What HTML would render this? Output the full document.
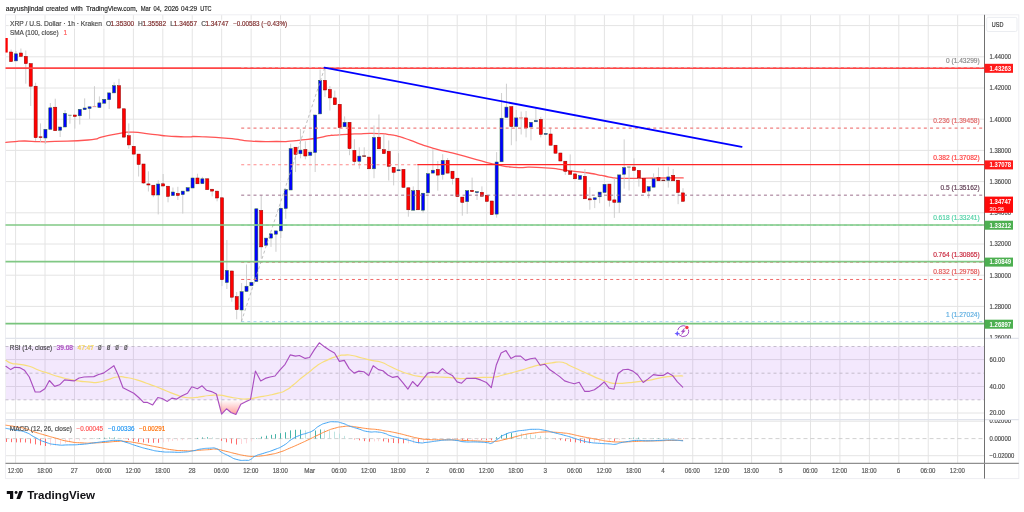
<!DOCTYPE html>
<html><head><meta charset="utf-8"><title>XRPUSD chart</title>
<style>html,body{margin:0;padding:0;background:#fff;overflow:hidden}svg{display:block;will-change:transform}text{font-family:"Liberation Sans",sans-serif}</style></head>
<body>
<svg width="1024" height="512" viewBox="0 0 1024 512" font-family='"Liberation Sans", sans-serif'>
<rect width="1024" height="512" fill="#fff"/>
<line x1="15.6" y1="14.8" x2="15.6" y2="463.4" stroke="#e4e4e4" stroke-width="1" />
<line x1="45.04" y1="14.8" x2="45.04" y2="463.4" stroke="#e4e4e4" stroke-width="1" />
<line x1="74.48" y1="14.8" x2="74.48" y2="463.4" stroke="#e4e4e4" stroke-width="1" />
<line x1="103.92" y1="14.8" x2="103.92" y2="463.4" stroke="#e4e4e4" stroke-width="1" />
<line x1="133.36" y1="14.8" x2="133.36" y2="463.4" stroke="#e4e4e4" stroke-width="1" />
<line x1="162.8" y1="14.8" x2="162.8" y2="463.4" stroke="#e4e4e4" stroke-width="1" />
<line x1="192.24" y1="14.8" x2="192.24" y2="463.4" stroke="#e4e4e4" stroke-width="1" />
<line x1="221.68" y1="14.8" x2="221.68" y2="463.4" stroke="#e4e4e4" stroke-width="1" />
<line x1="251.12" y1="14.8" x2="251.12" y2="463.4" stroke="#e4e4e4" stroke-width="1" />
<line x1="280.56" y1="14.8" x2="280.56" y2="463.4" stroke="#e4e4e4" stroke-width="1" />
<line x1="310" y1="14.8" x2="310" y2="463.4" stroke="#e4e4e4" stroke-width="1" />
<line x1="339.44" y1="14.8" x2="339.44" y2="463.4" stroke="#e4e4e4" stroke-width="1" />
<line x1="368.88" y1="14.8" x2="368.88" y2="463.4" stroke="#e4e4e4" stroke-width="1" />
<line x1="398.32" y1="14.8" x2="398.32" y2="463.4" stroke="#e4e4e4" stroke-width="1" />
<line x1="427.76" y1="14.8" x2="427.76" y2="463.4" stroke="#e4e4e4" stroke-width="1" />
<line x1="457.2" y1="14.8" x2="457.2" y2="463.4" stroke="#e4e4e4" stroke-width="1" />
<line x1="486.64" y1="14.8" x2="486.64" y2="463.4" stroke="#e4e4e4" stroke-width="1" />
<line x1="516.08" y1="14.8" x2="516.08" y2="463.4" stroke="#e4e4e4" stroke-width="1" />
<line x1="545.52" y1="14.8" x2="545.52" y2="463.4" stroke="#e4e4e4" stroke-width="1" />
<line x1="574.96" y1="14.8" x2="574.96" y2="463.4" stroke="#e4e4e4" stroke-width="1" />
<line x1="604.4" y1="14.8" x2="604.4" y2="463.4" stroke="#e4e4e4" stroke-width="1" />
<line x1="633.84" y1="14.8" x2="633.84" y2="463.4" stroke="#e4e4e4" stroke-width="1" />
<line x1="663.28" y1="14.8" x2="663.28" y2="463.4" stroke="#e4e4e4" stroke-width="1" />
<line x1="692.72" y1="14.8" x2="692.72" y2="463.4" stroke="#e4e4e4" stroke-width="1" />
<line x1="722.16" y1="14.8" x2="722.16" y2="463.4" stroke="#e4e4e4" stroke-width="1" />
<line x1="751.6" y1="14.8" x2="751.6" y2="463.4" stroke="#e4e4e4" stroke-width="1" />
<line x1="781.04" y1="14.8" x2="781.04" y2="463.4" stroke="#e4e4e4" stroke-width="1" />
<line x1="810.48" y1="14.8" x2="810.48" y2="463.4" stroke="#e4e4e4" stroke-width="1" />
<line x1="839.92" y1="14.8" x2="839.92" y2="463.4" stroke="#e4e4e4" stroke-width="1" />
<line x1="869.36" y1="14.8" x2="869.36" y2="463.4" stroke="#e4e4e4" stroke-width="1" />
<line x1="898.8" y1="14.8" x2="898.8" y2="463.4" stroke="#e4e4e4" stroke-width="1" />
<line x1="928.24" y1="14.8" x2="928.24" y2="463.4" stroke="#e4e4e4" stroke-width="1" />
<line x1="957.68" y1="14.8" x2="957.68" y2="463.4" stroke="#e4e4e4" stroke-width="1" />
<line x1="5.5" y1="25.6" x2="984.5" y2="25.6" stroke="#e4e4e4" stroke-width="1" />
<line x1="5.5" y1="56.8" x2="984.5" y2="56.8" stroke="#e4e4e4" stroke-width="1" />
<line x1="5.5" y1="88" x2="984.5" y2="88" stroke="#e4e4e4" stroke-width="1" />
<line x1="5.5" y1="119.2" x2="984.5" y2="119.2" stroke="#e4e4e4" stroke-width="1" />
<line x1="5.5" y1="150.4" x2="984.5" y2="150.4" stroke="#e4e4e4" stroke-width="1" />
<line x1="5.5" y1="181.6" x2="984.5" y2="181.6" stroke="#e4e4e4" stroke-width="1" />
<line x1="5.5" y1="212.8" x2="984.5" y2="212.8" stroke="#e4e4e4" stroke-width="1" />
<line x1="5.5" y1="244" x2="984.5" y2="244" stroke="#e4e4e4" stroke-width="1" />
<line x1="5.5" y1="275.2" x2="984.5" y2="275.2" stroke="#e4e4e4" stroke-width="1" />
<line x1="5.5" y1="306.4" x2="984.5" y2="306.4" stroke="#e4e4e4" stroke-width="1" />
<line x1="5.5" y1="359.6" x2="984.5" y2="359.6" stroke="#e4e4e4" stroke-width="1" />
<line x1="5.5" y1="386.5" x2="984.5" y2="386.5" stroke="#e4e4e4" stroke-width="1" />
<line x1="5.5" y1="413" x2="984.5" y2="413" stroke="#e4e4e4" stroke-width="1" />
<line x1="5.5" y1="421.2" x2="984.5" y2="421.2" stroke="#e4e4e4" stroke-width="1" />
<line x1="5.5" y1="455.7" x2="984.5" y2="455.7" stroke="#e4e4e4" stroke-width="1" />
<rect x="5.5" y="346.5" width="979" height="53.3" fill="rgb(145,50,240)" fill-opacity="0.11"/>
<rect x="5.5" y="14.8" width="1013.3" height="463.8" fill="none" stroke="#eeeef2" stroke-width="1"/>
<line x1="5.5" y1="338.4" x2="1018.8" y2="338.4" stroke="#e0e3eb" stroke-width="1.2" />
<line x1="5.5" y1="419.6" x2="1018.8" y2="419.6" stroke="#e0e3eb" stroke-width="1.2" />
<line x1="5.5" y1="346.5" x2="984.5" y2="346.5" stroke="#beb7c7" stroke-width="0.9" stroke-dasharray="3 3" />
<line x1="5.5" y1="373.2" x2="984.5" y2="373.2" stroke="#beb7c7" stroke-width="0.9" stroke-dasharray="3 3" />
<line x1="5.5" y1="399.8" x2="984.5" y2="399.8" stroke="#beb7c7" stroke-width="0.9" stroke-dasharray="3 3" />
<line x1="5.5" y1="438.6" x2="984.5" y2="438.6" stroke="#c4c4c4" stroke-width="0.8" stroke-dasharray="4 3" />
<path d="M5.9 142.4 C8.93 142.13 8.63 142.07 15 141.6 C21.37 141.13 16.67 140.97 25 141 C33.33 141.03 30 141.57 40 141.7 C50 141.83 39 141.97 55 141.4 C71 140.83 71.83 141.57 88 140 C104.17 138.43 92.5 138.97 103.5 136.7 C114.5 134.43 111.17 134.7 121 133.2 C130.83 131.7 123.87 132 133 132.2 C142.13 132.4 138.73 132.7 148.4 133.8 C158.07 134.9 152.87 134.6 162 135.5 C171.13 136.4 166.8 136.07 175.8 136.5 C184.8 136.93 181.27 136.73 189 136.8 C196.73 136.87 186 136.17 199 136.7 C212 137.23 210.5 136.93 228 138.4 C245.5 139.87 235.17 140.07 251.5 141.1 C267.83 142.13 264.17 141.47 277 141.5 C289.83 141.53 281.67 141.77 290 141.2 C298.33 140.63 293.67 140.7 302 139.8 C310.33 138.9 306.07 139.87 315 138.5 C323.93 137.13 322.13 136.8 328.8 135.7 C335.47 134.6 329.03 135.63 335 135.2 C340.97 134.77 338.9 134.87 346.7 134.4 C354.5 133.93 350.57 134.13 358.4 133.8 C366.23 133.47 362.37 133.43 370.2 133.4 C378.03 133.37 376.07 133.4 381.9 133.7 C387.73 134 383.8 133.8 387.7 134.3 C391.6 134.8 390.07 134.5 393.6 135.2 C397.13 135.9 394.4 135.3 398.3 136.4 C402.2 137.5 399.07 136.37 405.3 138.5 C411.53 140.63 409.17 140 417 142.8 C424.83 145.6 420.97 144.37 428.8 146.9 C436.63 149.43 431.77 148.13 440.5 150.4 C449.23 152.67 443 150.63 455 153.7 C467 156.77 462.83 156 476.5 159.6 C490.17 163.2 483 161.9 496 164.5 C509 167.1 504.17 166.5 515.5 167.4 C526.83 168.3 518.67 166.97 530 167.2 C541.33 167.43 536.5 166.97 549.5 168.1 C562.5 169.23 555.97 168.97 569 170.6 C582.03 172.23 578.93 171.6 588.6 173 C598.27 174.4 592.63 173.8 598 174.8 C603.37 175.8 600.37 175.13 604.7 176 C609.03 176.87 607.23 176.7 611 177.4 C614.77 178.1 611.67 177.77 616 178.1 C620.33 178.43 616.4 178.33 624 178.4 C631.6 178.47 627.13 178.43 638.8 178.3 C650.47 178.17 644.2 178.13 659 178 C673.8 177.87 675.13 177.93 683.2 177.9" fill="none" stroke="#ff5555" stroke-width="1.3" stroke-linejoin="round" stroke-linecap="round" />
<line x1="6.19" y1="38" x2="6.19" y2="52.5" stroke="#c9c9c9" stroke-width="0.9" />
<rect x="5.5" y="38" width="2.24" height="14.5" fill="#ff0000"/>
<line x1="11.1" y1="49.5" x2="11.1" y2="62" stroke="#c9c9c9" stroke-width="0.9" />
<rect x="9.55" y="52" width="3.1" height="9.6" fill="#ff0000" stroke="#8e0000" stroke-width="0.5"/>
<line x1="16" y1="51" x2="16" y2="61.2" stroke="#c9c9c9" stroke-width="0.9" />
<rect x="14.45" y="53.8" width="3.1" height="7.1" fill="#0000ff" stroke="#2f6f3f" stroke-width="0.5"/>
<line x1="20.9" y1="48.5" x2="20.9" y2="56.4" stroke="#c9c9c9" stroke-width="0.9" />
<rect x="19.35" y="53" width="3.1" height="3.4" fill="#ff0000" stroke="#8e0000" stroke-width="0.5"/>
<line x1="25.81" y1="50.5" x2="25.81" y2="83.7" stroke="#c9c9c9" stroke-width="0.9" />
<rect x="24.26" y="56.4" width="3.1" height="7.2" fill="#ff0000" stroke="#8e0000" stroke-width="0.5"/>
<line x1="30.71" y1="63.6" x2="30.71" y2="106" stroke="#c9c9c9" stroke-width="0.9" />
<rect x="29.16" y="63.6" width="3.1" height="22.6" fill="#ff0000" stroke="#8e0000" stroke-width="0.5"/>
<line x1="35.62" y1="82.7" x2="35.62" y2="141" stroke="#c9c9c9" stroke-width="0.9" />
<rect x="34.07" y="86.2" width="3.1" height="51.5" fill="#ff0000" stroke="#8e0000" stroke-width="0.5"/>
<line x1="40.52" y1="123.4" x2="40.52" y2="142" stroke="#c9c9c9" stroke-width="0.9" />
<rect x="38.97" y="136.8" width="3.1" height="0.8" fill="#ff0000" stroke="#8e0000" stroke-width="0.5"/>
<line x1="45.43" y1="129" x2="45.43" y2="144" stroke="#c9c9c9" stroke-width="0.9" />
<rect x="43.88" y="129.3" width="3.1" height="8.7" fill="#0000ff" stroke="#2f6f3f" stroke-width="0.5"/>
<line x1="50.33" y1="103" x2="50.33" y2="129.3" stroke="#c9c9c9" stroke-width="0.9" />
<rect x="48.78" y="107.8" width="3.1" height="21.5" fill="#0000ff" stroke="#2f6f3f" stroke-width="0.5"/>
<line x1="55.24" y1="98.7" x2="55.24" y2="131" stroke="#c9c9c9" stroke-width="0.9" />
<rect x="53.69" y="107.2" width="3.1" height="23.5" fill="#ff0000" stroke="#8e0000" stroke-width="0.5"/>
<line x1="60.14" y1="127" x2="60.14" y2="137" stroke="#c9c9c9" stroke-width="0.9" />
<rect x="58.59" y="127" width="3.1" height="3.3" fill="#0000ff" stroke="#2f6f3f" stroke-width="0.5"/>
<line x1="65.04" y1="110" x2="65.04" y2="127" stroke="#c9c9c9" stroke-width="0.9" />
<rect x="63.49" y="113.3" width="3.1" height="13.7" fill="#0000ff" stroke="#2f6f3f" stroke-width="0.5"/>
<line x1="69.95" y1="115" x2="69.95" y2="123.7" stroke="#c9c9c9" stroke-width="0.9" />
<rect x="68.4" y="115" width="3.1" height="0.7" fill="#8aa08a" stroke="#8aa08a" stroke-width="0.5"/>
<line x1="74.85" y1="115" x2="74.85" y2="128.6" stroke="#c9c9c9" stroke-width="0.9" />
<rect x="73.3" y="115" width="3.1" height="1.5" fill="#ff0000" stroke="#8e0000" stroke-width="0.5"/>
<line x1="79.76" y1="109" x2="79.76" y2="124.5" stroke="#c9c9c9" stroke-width="0.9" />
<rect x="78.21" y="109.3" width="3.1" height="6.5" fill="#0000ff" stroke="#2f6f3f" stroke-width="0.5"/>
<line x1="84.66" y1="98.4" x2="84.66" y2="110" stroke="#c9c9c9" stroke-width="0.9" />
<rect x="83.11" y="108" width="3.1" height="1.7" fill="#0000ff" stroke="#2f6f3f" stroke-width="0.5"/>
<line x1="89.57" y1="106.5" x2="89.57" y2="118.9" stroke="#c9c9c9" stroke-width="0.9" />
<rect x="88.02" y="106.8" width="3.1" height="1.7" fill="#0000ff" stroke="#2f6f3f" stroke-width="0.5"/>
<line x1="94.47" y1="86.2" x2="94.47" y2="107" stroke="#c9c9c9" stroke-width="0.9" />
<rect x="92.92" y="106.2" width="3.1" height="0.7" fill="#e8a0a0" stroke="#e8a0a0" stroke-width="0.5"/>
<line x1="99.38" y1="96.4" x2="99.38" y2="108" stroke="#c9c9c9" stroke-width="0.9" />
<rect x="97.83" y="102.9" width="3.1" height="4.6" fill="#0000ff" stroke="#2f6f3f" stroke-width="0.5"/>
<line x1="104.28" y1="99" x2="104.28" y2="104" stroke="#c9c9c9" stroke-width="0.9" />
<rect x="102.73" y="99.3" width="3.1" height="3.9" fill="#0000ff" stroke="#2f6f3f" stroke-width="0.5"/>
<line x1="109.19" y1="92.5" x2="109.19" y2="109" stroke="#c9c9c9" stroke-width="0.9" />
<rect x="107.64" y="92.9" width="3.1" height="6.8" fill="#0000ff" stroke="#2f6f3f" stroke-width="0.5"/>
<line x1="114.09" y1="82.3" x2="114.09" y2="93" stroke="#c9c9c9" stroke-width="0.9" />
<rect x="112.54" y="85.7" width="3.1" height="7.2" fill="#0000ff" stroke="#2f6f3f" stroke-width="0.5"/>
<line x1="118.99" y1="78.8" x2="118.99" y2="108.5" stroke="#c9c9c9" stroke-width="0.9" />
<rect x="117.44" y="85.7" width="3.1" height="22.4" fill="#ff0000" stroke="#8e0000" stroke-width="0.5"/>
<line x1="123.9" y1="108.5" x2="123.9" y2="138" stroke="#c9c9c9" stroke-width="0.9" />
<rect x="122.35" y="108.8" width="3.1" height="28.3" fill="#ff0000" stroke="#8e0000" stroke-width="0.5"/>
<line x1="128.8" y1="123.4" x2="128.8" y2="148.8" stroke="#c9c9c9" stroke-width="0.9" />
<rect x="127.25" y="135.7" width="3.1" height="9.2" fill="#ff0000" stroke="#8e0000" stroke-width="0.5"/>
<line x1="133.71" y1="146" x2="133.71" y2="155" stroke="#c9c9c9" stroke-width="0.9" />
<rect x="132.16" y="146.3" width="3.1" height="7.8" fill="#ff0000" stroke="#8e0000" stroke-width="0.5"/>
<line x1="138.61" y1="154" x2="138.61" y2="176.5" stroke="#c9c9c9" stroke-width="0.9" />
<rect x="137.06" y="154.1" width="3.1" height="10.4" fill="#ff0000" stroke="#8e0000" stroke-width="0.5"/>
<line x1="143.52" y1="164" x2="143.52" y2="184" stroke="#c9c9c9" stroke-width="0.9" />
<rect x="141.97" y="164" width="3.1" height="19" fill="#ff0000" stroke="#8e0000" stroke-width="0.5"/>
<line x1="148.42" y1="171.3" x2="148.42" y2="191.5" stroke="#c9c9c9" stroke-width="0.9" />
<rect x="146.87" y="183.9" width="3.1" height="1.1" fill="#ff0000" stroke="#8e0000" stroke-width="0.5"/>
<line x1="153.33" y1="185" x2="153.33" y2="197.2" stroke="#c9c9c9" stroke-width="0.9" />
<rect x="151.78" y="185.2" width="3.1" height="9.8" fill="#ff0000" stroke="#8e0000" stroke-width="0.5"/>
<line x1="158.23" y1="180.2" x2="158.23" y2="214.4" stroke="#c9c9c9" stroke-width="0.9" />
<rect x="156.68" y="184" width="3.1" height="11" fill="#0000ff" stroke="#2f6f3f" stroke-width="0.5"/>
<line x1="163.13" y1="174" x2="163.13" y2="186.5" stroke="#c9c9c9" stroke-width="0.9" />
<rect x="161.58" y="183.8" width="3.1" height="2.2" fill="#ff0000" stroke="#8e0000" stroke-width="0.5"/>
<line x1="168.04" y1="186" x2="168.04" y2="202.3" stroke="#c9c9c9" stroke-width="0.9" />
<rect x="166.49" y="186.2" width="3.1" height="10.2" fill="#ff0000" stroke="#8e0000" stroke-width="0.5"/>
<line x1="172.94" y1="187.5" x2="172.94" y2="196" stroke="#c9c9c9" stroke-width="0.9" />
<rect x="171.39" y="192" width="3.1" height="3.6" fill="#0000ff" stroke="#2f6f3f" stroke-width="0.5"/>
<line x1="177.85" y1="186.8" x2="177.85" y2="200" stroke="#c9c9c9" stroke-width="0.9" />
<rect x="176.3" y="193.4" width="3.1" height="2.1" fill="#ff0000" stroke="#8e0000" stroke-width="0.5"/>
<line x1="182.75" y1="191" x2="182.75" y2="213.6" stroke="#c9c9c9" stroke-width="0.9" />
<rect x="181.2" y="191.1" width="3.1" height="3.5" fill="#0000ff" stroke="#2f6f3f" stroke-width="0.5"/>
<line x1="187.66" y1="187.5" x2="187.66" y2="191.5" stroke="#c9c9c9" stroke-width="0.9" />
<rect x="186.11" y="187.7" width="3.1" height="3.4" fill="#0000ff" stroke="#2f6f3f" stroke-width="0.5"/>
<line x1="192.56" y1="177.5" x2="192.56" y2="188" stroke="#c9c9c9" stroke-width="0.9" />
<rect x="191.01" y="178" width="3.1" height="10" fill="#0000ff" stroke="#2f6f3f" stroke-width="0.5"/>
<line x1="197.47" y1="173.7" x2="197.47" y2="184" stroke="#c9c9c9" stroke-width="0.9" />
<rect x="195.92" y="178" width="3.1" height="5.8" fill="#ff0000" stroke="#8e0000" stroke-width="0.5"/>
<line x1="202.37" y1="176.9" x2="202.37" y2="184" stroke="#c9c9c9" stroke-width="0.9" />
<rect x="200.82" y="178.8" width="3.1" height="4.9" fill="#0000ff" stroke="#2f6f3f" stroke-width="0.5"/>
<line x1="207.28" y1="178.5" x2="207.28" y2="190" stroke="#c9c9c9" stroke-width="0.9" />
<rect x="205.73" y="178.8" width="3.1" height="10.8" fill="#ff0000" stroke="#8e0000" stroke-width="0.5"/>
<line x1="212.18" y1="189" x2="212.18" y2="196.4" stroke="#c9c9c9" stroke-width="0.9" />
<rect x="210.63" y="189.2" width="3.1" height="1.9" fill="#ff0000" stroke="#8e0000" stroke-width="0.5"/>
<line x1="217.08" y1="191" x2="217.08" y2="201.3" stroke="#c9c9c9" stroke-width="0.9" />
<rect x="215.53" y="191.1" width="3.1" height="6.9" fill="#ff0000" stroke="#8e0000" stroke-width="0.5"/>
<line x1="221.99" y1="197.5" x2="221.99" y2="286" stroke="#c9c9c9" stroke-width="0.9" />
<rect x="220.44" y="197.8" width="3.1" height="81.9" fill="#ff0000" stroke="#8e0000" stroke-width="0.5"/>
<line x1="226.89" y1="240" x2="226.89" y2="289" stroke="#c9c9c9" stroke-width="0.9" />
<rect x="225.34" y="270.4" width="3.1" height="12.1" fill="#0000ff" stroke="#2f6f3f" stroke-width="0.5"/>
<line x1="231.8" y1="270.5" x2="231.8" y2="301.8" stroke="#c9c9c9" stroke-width="0.9" />
<rect x="230.25" y="271" width="3.1" height="26.2" fill="#ff0000" stroke="#8e0000" stroke-width="0.5"/>
<line x1="236.7" y1="292" x2="236.7" y2="319.3" stroke="#c9c9c9" stroke-width="0.9" />
<rect x="235.15" y="296.6" width="3.1" height="13" fill="#ff0000" stroke="#8e0000" stroke-width="0.5"/>
<line x1="241.61" y1="283" x2="241.61" y2="321.9" stroke="#c9c9c9" stroke-width="0.9" />
<rect x="240.06" y="291.7" width="3.1" height="18.3" fill="#0000ff" stroke="#2f6f3f" stroke-width="0.5"/>
<line x1="246.51" y1="264.5" x2="246.51" y2="292" stroke="#c9c9c9" stroke-width="0.9" />
<rect x="244.96" y="286.2" width="3.1" height="5.2" fill="#0000ff" stroke="#2f6f3f" stroke-width="0.5"/>
<line x1="251.42" y1="282" x2="251.42" y2="286" stroke="#c9c9c9" stroke-width="0.9" />
<rect x="249.87" y="282.3" width="3.1" height="3.5" fill="#0000ff" stroke="#2f6f3f" stroke-width="0.5"/>
<line x1="256.32" y1="208.5" x2="256.32" y2="282" stroke="#c9c9c9" stroke-width="0.9" />
<rect x="254.77" y="208.8" width="3.1" height="72.7" fill="#0000ff" stroke="#2f6f3f" stroke-width="0.5"/>
<line x1="261.23" y1="195.4" x2="261.23" y2="258.6" stroke="#c9c9c9" stroke-width="0.9" />
<rect x="259.68" y="210.4" width="3.1" height="36.5" fill="#ff0000" stroke="#8e0000" stroke-width="0.5"/>
<line x1="266.13" y1="238" x2="266.13" y2="246" stroke="#c9c9c9" stroke-width="0.9" />
<rect x="264.58" y="238.1" width="3.1" height="7.2" fill="#0000ff" stroke="#2f6f3f" stroke-width="0.5"/>
<line x1="271.03" y1="233.5" x2="271.03" y2="246.9" stroke="#c9c9c9" stroke-width="0.9" />
<rect x="269.48" y="233.8" width="3.1" height="4.3" fill="#0000ff" stroke="#2f6f3f" stroke-width="0.5"/>
<line x1="275.94" y1="230.5" x2="275.94" y2="251.8" stroke="#c9c9c9" stroke-width="0.9" />
<rect x="274.39" y="230.9" width="3.1" height="3.3" fill="#0000ff" stroke="#2f6f3f" stroke-width="0.5"/>
<line x1="280.84" y1="208" x2="280.84" y2="238" stroke="#c9c9c9" stroke-width="0.9" />
<rect x="279.29" y="208.2" width="3.1" height="22.7" fill="#0000ff" stroke="#2f6f3f" stroke-width="0.5"/>
<line x1="285.75" y1="189.5" x2="285.75" y2="218.8" stroke="#c9c9c9" stroke-width="0.9" />
<rect x="284.2" y="189.6" width="3.1" height="18.9" fill="#0000ff" stroke="#2f6f3f" stroke-width="0.5"/>
<line x1="290.65" y1="143.7" x2="290.65" y2="190" stroke="#c9c9c9" stroke-width="0.9" />
<rect x="289.1" y="148.6" width="3.1" height="41.4" fill="#0000ff" stroke="#2f6f3f" stroke-width="0.5"/>
<line x1="295.56" y1="147" x2="295.56" y2="172" stroke="#c9c9c9" stroke-width="0.9" />
<rect x="294.01" y="147.2" width="3.1" height="7.2" fill="#ff0000" stroke="#8e0000" stroke-width="0.5"/>
<line x1="300.46" y1="129" x2="300.46" y2="158.3" stroke="#c9c9c9" stroke-width="0.9" />
<rect x="298.91" y="150.1" width="3.1" height="3.7" fill="#0000ff" stroke="#2f6f3f" stroke-width="0.5"/>
<line x1="305.37" y1="141.3" x2="305.37" y2="159.3" stroke="#c9c9c9" stroke-width="0.9" />
<rect x="303.82" y="149.5" width="3.1" height="6.5" fill="#ff0000" stroke="#8e0000" stroke-width="0.5"/>
<line x1="310.27" y1="152" x2="310.27" y2="155.5" stroke="#c9c9c9" stroke-width="0.9" />
<rect x="308.72" y="152.1" width="3.1" height="3.3" fill="#0000ff" stroke="#2f6f3f" stroke-width="0.5"/>
<line x1="315.17" y1="115" x2="315.17" y2="172" stroke="#c9c9c9" stroke-width="0.9" />
<rect x="313.62" y="115" width="3.1" height="37.5" fill="#0000ff" stroke="#2f6f3f" stroke-width="0.5"/>
<line x1="320.08" y1="69.5" x2="320.08" y2="114" stroke="#c9c9c9" stroke-width="0.9" />
<rect x="318.53" y="80.3" width="3.1" height="33.6" fill="#0000ff" stroke="#2f6f3f" stroke-width="0.5"/>
<line x1="324.98" y1="67.6" x2="324.98" y2="96.9" stroke="#c9c9c9" stroke-width="0.9" />
<rect x="323.43" y="80.3" width="3.1" height="9.7" fill="#ff0000" stroke="#8e0000" stroke-width="0.5"/>
<line x1="329.89" y1="86.1" x2="329.89" y2="110.5" stroke="#c9c9c9" stroke-width="0.9" />
<rect x="328.34" y="89.5" width="3.1" height="8.4" fill="#ff0000" stroke="#8e0000" stroke-width="0.5"/>
<line x1="334.79" y1="90.6" x2="334.79" y2="105" stroke="#c9c9c9" stroke-width="0.9" />
<rect x="333.24" y="97.9" width="3.1" height="6.8" fill="#ff0000" stroke="#8e0000" stroke-width="0.5"/>
<line x1="339.7" y1="104" x2="339.7" y2="136" stroke="#c9c9c9" stroke-width="0.9" />
<rect x="338.15" y="104.3" width="3.1" height="23.4" fill="#ff0000" stroke="#8e0000" stroke-width="0.5"/>
<line x1="344.6" y1="116.4" x2="344.6" y2="127" stroke="#c9c9c9" stroke-width="0.9" />
<rect x="343.05" y="122.3" width="3.1" height="4.5" fill="#0000ff" stroke="#2f6f3f" stroke-width="0.5"/>
<line x1="349.51" y1="122" x2="349.51" y2="155.2" stroke="#c9c9c9" stroke-width="0.9" />
<rect x="347.96" y="122.3" width="3.1" height="26.4" fill="#ff0000" stroke="#8e0000" stroke-width="0.5"/>
<line x1="354.41" y1="139.2" x2="354.41" y2="165" stroke="#c9c9c9" stroke-width="0.9" />
<rect x="352.86" y="150.3" width="3.1" height="11.3" fill="#ff0000" stroke="#8e0000" stroke-width="0.5"/>
<line x1="359.31" y1="147.3" x2="359.31" y2="168.8" stroke="#c9c9c9" stroke-width="0.9" />
<rect x="357.76" y="156.1" width="3.1" height="5.3" fill="#0000ff" stroke="#2f6f3f" stroke-width="0.5"/>
<line x1="364.22" y1="147.3" x2="364.22" y2="157" stroke="#c9c9c9" stroke-width="0.9" />
<rect x="362.67" y="155.8" width="3.1" height="0.7" fill="#7a2020" stroke="#7a2020" stroke-width="0.5"/>
<line x1="369.12" y1="157" x2="369.12" y2="169" stroke="#c9c9c9" stroke-width="0.9" />
<rect x="367.57" y="157.1" width="3.1" height="11.7" fill="#ff0000" stroke="#8e0000" stroke-width="0.5"/>
<line x1="374.03" y1="125.5" x2="374.03" y2="178.2" stroke="#c9c9c9" stroke-width="0.9" />
<rect x="372.48" y="137.5" width="3.1" height="31.3" fill="#0000ff" stroke="#2f6f3f" stroke-width="0.5"/>
<line x1="378.93" y1="114.5" x2="378.93" y2="149" stroke="#c9c9c9" stroke-width="0.9" />
<rect x="377.38" y="137.2" width="3.1" height="11.6" fill="#ff0000" stroke="#8e0000" stroke-width="0.5"/>
<line x1="383.84" y1="134.8" x2="383.84" y2="154" stroke="#c9c9c9" stroke-width="0.9" />
<rect x="382.29" y="149.7" width="3.1" height="3.9" fill="#ff0000" stroke="#8e0000" stroke-width="0.5"/>
<line x1="388.74" y1="140.4" x2="388.74" y2="180.5" stroke="#c9c9c9" stroke-width="0.9" />
<rect x="387.19" y="151.3" width="3.1" height="15" fill="#ff0000" stroke="#8e0000" stroke-width="0.5"/>
<line x1="393.65" y1="167" x2="393.65" y2="185.4" stroke="#c9c9c9" stroke-width="0.9" />
<rect x="392.1" y="167.3" width="3.1" height="5" fill="#ff0000" stroke="#8e0000" stroke-width="0.5"/>
<line x1="398.55" y1="153.2" x2="398.55" y2="171" stroke="#c9c9c9" stroke-width="0.9" />
<rect x="397" y="169.8" width="3.1" height="1" fill="#0000ff" stroke="#2f6f3f" stroke-width="0.5"/>
<line x1="403.46" y1="169" x2="403.46" y2="188" stroke="#c9c9c9" stroke-width="0.9" />
<rect x="401.91" y="169.4" width="3.1" height="18" fill="#ff0000" stroke="#8e0000" stroke-width="0.5"/>
<line x1="408.36" y1="187.5" x2="408.36" y2="216.7" stroke="#c9c9c9" stroke-width="0.9" />
<rect x="406.81" y="187.8" width="3.1" height="22" fill="#ff0000" stroke="#8e0000" stroke-width="0.5"/>
<line x1="413.26" y1="186.4" x2="413.26" y2="210.5" stroke="#c9c9c9" stroke-width="0.9" />
<rect x="411.71" y="190.7" width="3.1" height="19.5" fill="#0000ff" stroke="#2f6f3f" stroke-width="0.5"/>
<line x1="418.17" y1="165" x2="418.17" y2="210" stroke="#c9c9c9" stroke-width="0.9" />
<rect x="416.62" y="190.3" width="3.1" height="19.5" fill="#ff0000" stroke="#8e0000" stroke-width="0.5"/>
<line x1="423.07" y1="193" x2="423.07" y2="212.8" stroke="#c9c9c9" stroke-width="0.9" />
<rect x="421.52" y="193.2" width="3.1" height="17" fill="#0000ff" stroke="#2f6f3f" stroke-width="0.5"/>
<line x1="427.98" y1="173.5" x2="427.98" y2="193" stroke="#c9c9c9" stroke-width="0.9" />
<rect x="426.43" y="173.7" width="3.1" height="19.2" fill="#0000ff" stroke="#2f6f3f" stroke-width="0.5"/>
<line x1="432.88" y1="149.3" x2="432.88" y2="173.5" stroke="#c9c9c9" stroke-width="0.9" />
<rect x="431.33" y="170.2" width="3.1" height="2.9" fill="#0000ff" stroke="#2f6f3f" stroke-width="0.5"/>
<line x1="437.79" y1="161" x2="437.79" y2="190.7" stroke="#c9c9c9" stroke-width="0.9" />
<rect x="436.24" y="169.4" width="3.1" height="5.7" fill="#ff0000" stroke="#8e0000" stroke-width="0.5"/>
<line x1="442.69" y1="154.2" x2="442.69" y2="179.6" stroke="#c9c9c9" stroke-width="0.9" />
<rect x="441.14" y="160.4" width="3.1" height="14.3" fill="#0000ff" stroke="#2f6f3f" stroke-width="0.5"/>
<line x1="447.6" y1="158" x2="447.6" y2="173.5" stroke="#c9c9c9" stroke-width="0.9" />
<rect x="446.05" y="160.4" width="3.1" height="12.7" fill="#ff0000" stroke="#8e0000" stroke-width="0.5"/>
<line x1="452.5" y1="171" x2="452.5" y2="184.5" stroke="#c9c9c9" stroke-width="0.9" />
<rect x="450.95" y="171.2" width="3.1" height="7.4" fill="#ff0000" stroke="#8e0000" stroke-width="0.5"/>
<line x1="457.4" y1="178" x2="457.4" y2="197" stroke="#c9c9c9" stroke-width="0.9" />
<rect x="455.85" y="178.2" width="3.1" height="18.4" fill="#ff0000" stroke="#8e0000" stroke-width="0.5"/>
<line x1="462.31" y1="197" x2="462.31" y2="215.7" stroke="#c9c9c9" stroke-width="0.9" />
<rect x="460.76" y="197.1" width="3.1" height="5.3" fill="#ff0000" stroke="#8e0000" stroke-width="0.5"/>
<line x1="467.21" y1="190.5" x2="467.21" y2="213.8" stroke="#c9c9c9" stroke-width="0.9" />
<rect x="465.66" y="190.7" width="3.1" height="10.9" fill="#0000ff" stroke="#2f6f3f" stroke-width="0.5"/>
<line x1="472.12" y1="177.6" x2="472.12" y2="192" stroke="#c9c9c9" stroke-width="0.9" />
<rect x="470.57" y="190.3" width="3.1" height="1.4" fill="#ff0000" stroke="#8e0000" stroke-width="0.5"/>
<line x1="477.02" y1="191.5" x2="477.02" y2="200" stroke="#c9c9c9" stroke-width="0.9" />
<rect x="475.47" y="191.7" width="3.1" height="1" fill="#0000ff" stroke="#2f6f3f" stroke-width="0.5"/>
<line x1="481.93" y1="186.4" x2="481.93" y2="196.5" stroke="#c9c9c9" stroke-width="0.9" />
<rect x="480.38" y="192.3" width="3.1" height="3.9" fill="#ff0000" stroke="#8e0000" stroke-width="0.5"/>
<line x1="486.83" y1="195" x2="486.83" y2="201.5" stroke="#c9c9c9" stroke-width="0.9" />
<rect x="485.28" y="195.2" width="3.1" height="6.2" fill="#ff0000" stroke="#8e0000" stroke-width="0.5"/>
<line x1="491.74" y1="200.8" x2="491.74" y2="215" stroke="#c9c9c9" stroke-width="0.9" />
<rect x="490.19" y="201" width="3.1" height="13.7" fill="#ff0000" stroke="#8e0000" stroke-width="0.5"/>
<line x1="496.64" y1="152.1" x2="496.64" y2="217.7" stroke="#c9c9c9" stroke-width="0.9" />
<rect x="495.09" y="162" width="3.1" height="52.1" fill="#0000ff" stroke="#2f6f3f" stroke-width="0.5"/>
<line x1="501.55" y1="93" x2="501.55" y2="162" stroke="#c9c9c9" stroke-width="0.9" />
<rect x="500" y="118.2" width="3.1" height="43.6" fill="#0000ff" stroke="#2f6f3f" stroke-width="0.5"/>
<line x1="506.45" y1="83.7" x2="506.45" y2="118" stroke="#c9c9c9" stroke-width="0.9" />
<rect x="504.9" y="107.1" width="3.1" height="10.4" fill="#0000ff" stroke="#2f6f3f" stroke-width="0.5"/>
<line x1="511.35" y1="106.5" x2="511.35" y2="145.2" stroke="#c9c9c9" stroke-width="0.9" />
<rect x="509.8" y="106.7" width="3.1" height="19.9" fill="#ff0000" stroke="#8e0000" stroke-width="0.5"/>
<line x1="516.26" y1="110" x2="516.26" y2="141.3" stroke="#c9c9c9" stroke-width="0.9" />
<rect x="514.71" y="117.9" width="3.1" height="8.7" fill="#0000ff" stroke="#2f6f3f" stroke-width="0.5"/>
<line x1="521.16" y1="111.6" x2="521.16" y2="134.5" stroke="#c9c9c9" stroke-width="0.9" />
<rect x="519.61" y="117.6" width="3.1" height="0.7" fill="#e8a0a0" stroke="#e8a0a0" stroke-width="0.5"/>
<line x1="526.07" y1="111" x2="526.07" y2="137.4" stroke="#c9c9c9" stroke-width="0.9" />
<rect x="524.52" y="117.9" width="3.1" height="10.1" fill="#ff0000" stroke="#8e0000" stroke-width="0.5"/>
<line x1="530.97" y1="122" x2="530.97" y2="140.3" stroke="#c9c9c9" stroke-width="0.9" />
<rect x="529.42" y="122.3" width="3.1" height="4.7" fill="#0000ff" stroke="#2f6f3f" stroke-width="0.5"/>
<line x1="535.88" y1="108.1" x2="535.88" y2="122" stroke="#c9c9c9" stroke-width="0.9" />
<rect x="534.33" y="120.4" width="3.1" height="1.4" fill="#0000ff" stroke="#2f6f3f" stroke-width="0.5"/>
<line x1="540.78" y1="116.9" x2="540.78" y2="137.4" stroke="#c9c9c9" stroke-width="0.9" />
<rect x="539.23" y="119.4" width="3.1" height="15" fill="#ff0000" stroke="#8e0000" stroke-width="0.5"/>
<line x1="545.69" y1="133" x2="545.69" y2="135" stroke="#c9c9c9" stroke-width="0.9" />
<rect x="544.14" y="133.4" width="3.1" height="1" fill="#0000ff" stroke="#2f6f3f" stroke-width="0.5"/>
<line x1="550.59" y1="127.6" x2="550.59" y2="145.5" stroke="#c9c9c9" stroke-width="0.9" />
<rect x="549.04" y="134" width="3.1" height="11.2" fill="#ff0000" stroke="#8e0000" stroke-width="0.5"/>
<line x1="555.5" y1="145" x2="555.5" y2="153.5" stroke="#c9c9c9" stroke-width="0.9" />
<rect x="553.95" y="145.2" width="3.1" height="8" fill="#ff0000" stroke="#8e0000" stroke-width="0.5"/>
<line x1="560.4" y1="152.8" x2="560.4" y2="161.3" stroke="#c9c9c9" stroke-width="0.9" />
<rect x="558.85" y="153" width="3.1" height="8" fill="#ff0000" stroke="#8e0000" stroke-width="0.5"/>
<line x1="565.3" y1="161" x2="565.3" y2="174.9" stroke="#c9c9c9" stroke-width="0.9" />
<rect x="563.75" y="161.2" width="3.1" height="10.2" fill="#ff0000" stroke="#8e0000" stroke-width="0.5"/>
<line x1="570.21" y1="154.4" x2="570.21" y2="174.5" stroke="#c9c9c9" stroke-width="0.9" />
<rect x="568.66" y="171" width="3.1" height="3.3" fill="#ff0000" stroke="#8e0000" stroke-width="0.5"/>
<line x1="575.11" y1="173.7" x2="575.11" y2="179" stroke="#c9c9c9" stroke-width="0.9" />
<rect x="573.56" y="173.9" width="3.1" height="4.9" fill="#ff0000" stroke="#8e0000" stroke-width="0.5"/>
<line x1="580.02" y1="175.3" x2="580.02" y2="179.6" stroke="#c9c9c9" stroke-width="0.9" />
<rect x="578.47" y="175.5" width="3.1" height="3.9" fill="#0000ff" stroke="#2f6f3f" stroke-width="0.5"/>
<line x1="584.92" y1="169" x2="584.92" y2="199" stroke="#c9c9c9" stroke-width="0.9" />
<rect x="583.37" y="176.3" width="3.1" height="22.5" fill="#ff0000" stroke="#8e0000" stroke-width="0.5"/>
<line x1="589.83" y1="187" x2="589.83" y2="209.7" stroke="#c9c9c9" stroke-width="0.9" />
<rect x="588.28" y="198.8" width="3.1" height="1.1" fill="#ff0000" stroke="#8e0000" stroke-width="0.5"/>
<line x1="594.73" y1="197.6" x2="594.73" y2="208.1" stroke="#c9c9c9" stroke-width="0.9" />
<rect x="593.18" y="197.8" width="3.1" height="1.9" fill="#0000ff" stroke="#2f6f3f" stroke-width="0.5"/>
<line x1="599.64" y1="192" x2="599.64" y2="203.2" stroke="#c9c9c9" stroke-width="0.9" />
<rect x="598.09" y="192.1" width="3.1" height="4.7" fill="#0000ff" stroke="#2f6f3f" stroke-width="0.5"/>
<line x1="604.54" y1="184" x2="604.54" y2="192.7" stroke="#c9c9c9" stroke-width="0.9" />
<rect x="602.99" y="184.3" width="3.1" height="8.2" fill="#0000ff" stroke="#2f6f3f" stroke-width="0.5"/>
<line x1="609.44" y1="184" x2="609.44" y2="206.6" stroke="#c9c9c9" stroke-width="0.9" />
<rect x="607.89" y="184.1" width="3.1" height="16.2" fill="#ff0000" stroke="#8e0000" stroke-width="0.5"/>
<line x1="614.35" y1="178.8" x2="614.35" y2="217.9" stroke="#c9c9c9" stroke-width="0.9" />
<rect x="612.8" y="199.9" width="3.1" height="2.4" fill="#ff0000" stroke="#8e0000" stroke-width="0.5"/>
<line x1="619.25" y1="174.7" x2="619.25" y2="213" stroke="#c9c9c9" stroke-width="0.9" />
<rect x="617.7" y="174.9" width="3.1" height="27.4" fill="#0000ff" stroke="#2f6f3f" stroke-width="0.5"/>
<line x1="624.16" y1="139.4" x2="624.16" y2="188.6" stroke="#c9c9c9" stroke-width="0.9" />
<rect x="622.61" y="167.5" width="3.1" height="6.8" fill="#0000ff" stroke="#2f6f3f" stroke-width="0.5"/>
<line x1="629.06" y1="166.8" x2="629.06" y2="190.5" stroke="#c9c9c9" stroke-width="0.9" />
<rect x="627.51" y="166.8" width="3.1" height="0.7" fill="#8aa08a" stroke="#8aa08a" stroke-width="0.5"/>
<line x1="633.97" y1="158.3" x2="633.97" y2="170.6" stroke="#c9c9c9" stroke-width="0.9" />
<rect x="632.42" y="167.1" width="3.1" height="3.3" fill="#ff0000" stroke="#8e0000" stroke-width="0.5"/>
<line x1="638.87" y1="170.2" x2="638.87" y2="186.6" stroke="#c9c9c9" stroke-width="0.9" />
<rect x="637.32" y="170.4" width="3.1" height="7.5" fill="#ff0000" stroke="#8e0000" stroke-width="0.5"/>
<line x1="643.78" y1="178.2" x2="643.78" y2="192.7" stroke="#c9c9c9" stroke-width="0.9" />
<rect x="642.23" y="178.4" width="3.1" height="14.1" fill="#ff0000" stroke="#8e0000" stroke-width="0.5"/>
<line x1="648.68" y1="186.4" x2="648.68" y2="198.4" stroke="#c9c9c9" stroke-width="0.9" />
<rect x="647.13" y="186.6" width="3.1" height="4.5" fill="#0000ff" stroke="#2f6f3f" stroke-width="0.5"/>
<line x1="653.58" y1="173.4" x2="653.58" y2="187.4" stroke="#c9c9c9" stroke-width="0.9" />
<rect x="652.03" y="178.8" width="3.1" height="8.4" fill="#0000ff" stroke="#2f6f3f" stroke-width="0.5"/>
<line x1="658.49" y1="167.5" x2="658.49" y2="181" stroke="#c9c9c9" stroke-width="0.9" />
<rect x="656.94" y="177.3" width="3.1" height="3.5" fill="#ff0000" stroke="#8e0000" stroke-width="0.5"/>
<line x1="663.39" y1="180" x2="663.39" y2="181" stroke="#c9c9c9" stroke-width="0.9" />
<rect x="661.84" y="180" width="3.1" height="0.8" fill="#7a2020" stroke="#7a2020" stroke-width="0.5"/>
<line x1="668.3" y1="166.7" x2="668.3" y2="187.6" stroke="#c9c9c9" stroke-width="0.9" />
<rect x="666.75" y="176.9" width="3.1" height="3.5" fill="#0000ff" stroke="#2f6f3f" stroke-width="0.5"/>
<line x1="673.2" y1="169" x2="673.2" y2="181" stroke="#c9c9c9" stroke-width="0.9" />
<rect x="671.65" y="175.3" width="3.1" height="5.5" fill="#ff0000" stroke="#8e0000" stroke-width="0.5"/>
<line x1="678.11" y1="180" x2="678.11" y2="204.2" stroke="#c9c9c9" stroke-width="0.9" />
<rect x="676.56" y="180.2" width="3.1" height="12.3" fill="#ff0000" stroke="#8e0000" stroke-width="0.5"/>
<line x1="683.01" y1="188.2" x2="683.01" y2="201.5" stroke="#c9c9c9" stroke-width="0.9" />
<rect x="681.46" y="192.9" width="3.1" height="8.4" fill="#ff0000" stroke="#8e0000" stroke-width="0.5"/>
<line x1="241.2" y1="68.24" x2="984.5" y2="68.24" stroke="#9e9e9e" stroke-width="1" stroke-dasharray="3 3.15" />
<line x1="241.2" y1="128.16" x2="984.5" y2="128.16" stroke="#f08080" stroke-width="1.1" stroke-dasharray="3 3.15" />
<line x1="241.2" y1="164.72" x2="417.3" y2="164.72" stroke="#ff8a8a" stroke-width="1.1" stroke-dasharray="3 3.15" />
<line x1="241.2" y1="195.17" x2="984.5" y2="195.17" stroke="#9c6f8c" stroke-width="1" stroke-dasharray="3 3.15" />
<line x1="241.2" y1="225.14" x2="984.5" y2="225.14" stroke="#7fdcc0" stroke-width="1" stroke-dasharray="3 3.15" />
<line x1="241.2" y1="262.21" x2="984.5" y2="262.21" stroke="#f26d7d" stroke-width="1" stroke-dasharray="3 3.15" />
<line x1="241.2" y1="279.48" x2="984.5" y2="279.48" stroke="#f06a6a" stroke-width="1" stroke-dasharray="3 3.15" />
<line x1="241.2" y1="321.63" x2="984.5" y2="321.63" stroke="#a6d3ef" stroke-width="1" stroke-dasharray="3 3.15" />
<line x1="241.4" y1="321.5" x2="324.7" y2="67.8" stroke="#b0b0b0" stroke-width="0.8" stroke-dasharray="3 2.5" />
<line x1="5.5" y1="68.2" x2="984.5" y2="68.2" stroke="#ff4545" stroke-width="1.8" />
<line x1="241.2" y1="67.4" x2="984.5" y2="67.4" stroke="#e8c4c4" stroke-width="0.8" stroke-dasharray="3 3.15" />
<line x1="417.3" y1="164.7" x2="984.5" y2="164.7" stroke="#ff2626" stroke-width="1.25" />
<line x1="5.5" y1="225" x2="984.5" y2="225" stroke="#80c884" stroke-width="1.7" />
<line x1="5.5" y1="261.7" x2="984.5" y2="261.7" stroke="#80c884" stroke-width="1.7" />
<line x1="5.5" y1="323.7" x2="984.5" y2="323.7" stroke="#78c47c" stroke-width="1.8" />
<line x1="324.5" y1="67.6" x2="741.6" y2="146.8" stroke="#0000ff" stroke-width="1.85" stroke-linecap="round"/>
<defs><linearGradient id="os" x1="0" y1="0" x2="0" y2="1"><stop offset="0" stop-color="#ff5252" stop-opacity="0"/><stop offset="1" stop-color="#ff5252" stop-opacity="0.55"/></linearGradient></defs>
<polygon points="217.8,399.8 221.6,414.1 226.5,408.8 231,412.5 235.9,414.5 240.8,404.3 245.7,401.8 250.3,399.8" fill="url(#os)"/>
<path d="M5.9 360.4 C7.83 361.37 7.17 362 11.7 363.3 C16.23 364.6 13.63 363.3 19.5 364.3 C25.37 365.3 22.8 364.33 29.3 366.3 C35.8 368.27 32.5 367.8 39 370.2 C45.5 372.6 42.27 371.37 48.8 373.5 C55.33 375.63 52.07 374.77 58.6 376.6 C65.13 378.43 61.9 377.57 68.4 379 C74.9 380.43 71.6 379.93 78.1 380.9 C84.6 381.87 81.37 381.43 87.9 381.9 C94.43 382.37 91.2 382.97 97.7 382.3 C104.2 381.63 100.9 381.67 107.4 379.9 C113.9 378.13 110.67 377.77 117.2 377 C123.73 376.23 120.5 376.63 127 377.6 C133.5 378.57 130.2 378.03 136.7 379.9 C143.2 381.77 139.97 380.9 146.5 383.2 C153.03 385.5 149.8 384.3 156.3 386.8 C162.8 389.3 159.5 388.1 166 390.7 C172.5 393.3 169.3 392.33 175.8 394.6 C182.3 396.87 179 396.53 185.5 397.5 C192 398.47 190.53 397.7 195.3 397.5 C200.07 397.3 195.07 397.57 199.8 396.9 C204.53 396.23 203 396.07 209.5 395.5 C216 394.93 212.8 394.73 219.3 395.2 C225.8 395.67 222.5 395.8 229 396.9 C235.5 398 232.27 397.83 238.8 398.5 C245.33 399.17 242.07 399.37 248.6 398.9 C255.13 398.43 251.9 398.23 258.4 397.1 C264.9 395.97 261.6 396.8 268.1 395.5 C274.6 394.2 272.03 394.93 277.9 393.2 C283.77 391.47 280.5 393.1 285.7 390.3 C290.9 387.5 288.3 388.9 293.5 384.8 C298.7 380.7 296.1 382.23 301.3 378 C306.5 373.77 303.87 376.2 309.1 372.1 C314.33 368 311.13 369.6 317 365.7 C322.87 361.8 320.2 363.47 326.7 360.4 C333.2 357.33 330.63 358.27 336.5 356.5 C342.37 354.73 339.1 355.43 344.3 355.1 C349.5 354.77 346.23 354.53 352.1 355.5 C357.97 356.47 355.4 356.37 361.9 358 C368.4 359.63 365.1 358.97 371.6 360.4 C378.1 361.83 375.33 360.33 381.4 362.3 C387.47 364.27 383.77 363.5 389.8 366.3 C395.83 369.1 393 368.1 399.5 370.7 C406 373.3 402.8 372.2 409.3 374.1 C415.8 376 412.5 375.43 419 376.4 C425.5 377.37 422.27 376.8 428.8 377 C435.33 377.2 432.07 376.87 438.6 377 C445.13 377.13 441.9 376.93 448.4 377.4 C454.9 377.87 451.6 378.07 458.1 378.4 C464.6 378.73 461.37 378.67 467.9 378.4 C474.43 378.13 471.2 377.93 477.7 377.6 C484.2 377.27 481.57 377.6 487.4 377.4 C493.23 377.2 490 377.8 495.2 377 C500.4 376.2 497.13 376.5 503 375 C508.87 373.5 506.27 374.23 512.8 372.5 C519.33 370.77 516.1 371.7 522.6 369.8 C529.1 367.9 525.8 368.63 532.3 366.8 C538.8 364.97 535.57 365.6 542.1 364.3 C548.63 363 546.03 363.67 551.9 362.9 C557.77 362.13 555.17 361.87 559.7 362 C564.23 362.13 562.07 362.07 565.5 363.3 C568.93 364.53 565.23 363.4 570 365.7 C574.77 368 573.3 367.23 579.8 370.2 C586.3 373.17 583 371.7 589.5 374.6 C596 377.5 592.77 376.33 599.3 378.9 C605.83 381.47 603.23 380.8 609.1 382.3 C614.97 383.8 611.07 383.2 616.9 383.4 C622.73 383.6 620.1 383.4 626.6 382.9 C633.1 382.4 629.23 382.77 636.4 381.9 C643.57 381.03 640.93 381.47 648.1 380.3 C655.27 379.13 651.37 379.63 657.9 378.4 C664.43 377.17 661.2 377.4 667.7 376.6 C674.2 375.8 672.4 376.2 677.4 376 C682.4 375.8 680.93 376 682.7 376" fill="none" stroke="#f8de7c" stroke-width="1.2" stroke-linejoin="round" stroke-linecap="round" />
<polyline fill="none" stroke="#aa4fc0" stroke-width="1.15" stroke-linejoin="round" stroke-linecap="round" points="5.9,366.3 10.7,369.6 14.6,367.2 19.5,367.6 24.4,370.2 29.3,377 35.2,392 40,392 44.9,388.7 49.4,380.5 54.7,386.4 59.6,384.8 64.5,379.9 74.2,380.9 79.1,378 84,377 93.8,376.6 98.6,374.5 103.5,373.1 113.9,365.7 118.2,375 123,387.7 128.9,390.7 133.8,393.2 138.7,397.5 143.6,402.4 147.5,402.4 152.7,404.9 157.8,397.5 162.1,398.5 167.4,401.4 171.9,398.1 176.8,399.1 181.6,396.1 187.5,393.2 191.8,386.8 197.4,388.7 202.1,385.8 206.6,390.3 211.5,391.6 216.4,394 221.6,414.1 226.5,408.8 231,412.5 235.9,414.5 240.8,404.3 245.7,401.8 250.5,399.5 255.4,371.1 260.7,380.9 265.2,378.4 270.1,377 275,376 279.8,370.2 285.1,364.3 290.2,354.9 295.5,356.1 299.4,355.5 305.2,358.4 309.5,357.5 314.4,349.6 319.3,342.8 324.8,347.1 329.6,350.2 334.5,353 339.4,361.4 344.3,360.4 349.2,368.6 354.1,373.1 358.9,371.1 363.8,371.7 368.7,375.6 373.2,365.7 378.5,369.6 382.9,370.7 387.8,375 392.7,377.4 397.6,376.4 403,382.9 407.9,389.1 412.6,381.5 417.5,386.4 422.4,379.9 427.9,373.1 432.7,372.1 437.6,373.5 442.5,368.6 447.4,373.1 452.3,375.4 457.1,381.9 461.6,383.2 466.5,378.4 475.7,378.4 480.6,379.9 486.4,382.5 491.3,387.7 496.2,365.3 501.1,353 506,350.6 510.9,358.4 515.7,356.1 520.6,356.1 525.5,360.4 530.4,358.8 535.3,358 540.2,365.3 545,364.3 549.9,369.8 554.8,373.1 559.7,376.6 564.6,380.9 569.5,382.5 574.3,383.8 579.2,382.3 584.6,391.3 589.5,391.3 594.4,389.7 599.3,386.2 604.2,381.9 609.1,388.1 613.9,389.3 618.2,373.5 623.1,369.8 628,369.2 632.9,371.1 637.8,375 643.2,382.5 648.1,378.9 653.4,374.6 658.3,375.4 663.2,375.4 667.7,372.7 672.5,375.4 677.4,381.9 682.7,387.1" />
<line x1="6.5" y1="438.6" x2="6.5" y2="441.96" stroke="#ff5252" stroke-width="0.85" />
<line x1="11.5" y1="438.6" x2="11.5" y2="442.18" stroke="#ff5252" stroke-width="0.85" />
<line x1="16.5" y1="438.6" x2="16.5" y2="442.38" stroke="#ff5252" stroke-width="0.85" />
<line x1="20.5" y1="438.6" x2="20.5" y2="442.38" stroke="#ff5252" stroke-width="0.85" />
<line x1="25.5" y1="438.6" x2="25.5" y2="442.46" stroke="#ff5252" stroke-width="0.85" />
<line x1="30.5" y1="438.6" x2="30.5" y2="443.43" stroke="#ff5252" stroke-width="0.85" />
<line x1="35.5" y1="438.6" x2="35.5" y2="444.4" stroke="#ff5252" stroke-width="0.85" />
<line x1="40.5" y1="438.6" x2="40.5" y2="445.27" stroke="#ff5252" stroke-width="0.85" />
<line x1="45.5" y1="438.6" x2="45.5" y2="446.02" stroke="#ff5252" stroke-width="0.85" />
<line x1="50.5" y1="438.6" x2="50.5" y2="445.75" stroke="#ffcdd2" stroke-width="0.85" />
<line x1="55.5" y1="438.6" x2="55.5" y2="445.48" stroke="#ffcdd2" stroke-width="0.85" />
<line x1="60.5" y1="438.6" x2="60.5" y2="444.5" stroke="#ffcdd2" stroke-width="0.85" />
<line x1="65.5" y1="438.6" x2="65.5" y2="443.24" stroke="#ffcdd2" stroke-width="0.85" />
<line x1="69.5" y1="438.6" x2="69.5" y2="442.12" stroke="#ffcdd2" stroke-width="0.85" />
<line x1="74.5" y1="438.6" x2="74.5" y2="441.3" stroke="#ffcdd2" stroke-width="0.85" />
<line x1="79.5" y1="438.6" x2="79.5" y2="440.49" stroke="#ffcdd2" stroke-width="0.85" />
<line x1="84.5" y1="438.6" x2="84.5" y2="439.77" stroke="#ffcdd2" stroke-width="0.85" />
<line x1="89.5" y1="438.6" x2="89.5" y2="439.14" stroke="#ffcdd2" stroke-width="0.85" />
<line x1="94.5" y1="438.6" x2="94.5" y2="438.3" stroke="#26a69a" stroke-width="0.85" />
<line x1="99.5" y1="438.6" x2="99.5" y2="438.14" stroke="#26a69a" stroke-width="0.85" />
<line x1="104.5" y1="438.6" x2="104.5" y2="437.73" stroke="#26a69a" stroke-width="0.85" />
<line x1="109.5" y1="438.6" x2="109.5" y2="437.59" stroke="#26a69a" stroke-width="0.85" />
<line x1="114.5" y1="438.6" x2="114.5" y2="437.55" stroke="#26a69a" stroke-width="0.85" />
<line x1="118.5" y1="438.6" x2="118.5" y2="437.92" stroke="#b2dfdb" stroke-width="0.85" />
<line x1="123.5" y1="438.6" x2="123.5" y2="439" stroke="#ff5252" stroke-width="0.85" />
<line x1="128.5" y1="438.6" x2="128.5" y2="440.09" stroke="#ff5252" stroke-width="0.85" />
<line x1="133.5" y1="438.6" x2="133.5" y2="441.18" stroke="#ff5252" stroke-width="0.85" />
<line x1="138.5" y1="438.6" x2="138.5" y2="442" stroke="#ff5252" stroke-width="0.85" />
<line x1="143.5" y1="438.6" x2="143.5" y2="442.41" stroke="#ff5252" stroke-width="0.85" />
<line x1="148.5" y1="438.6" x2="148.5" y2="442.81" stroke="#ff5252" stroke-width="0.85" />
<line x1="153.5" y1="438.6" x2="153.5" y2="442.81" stroke="#ff5252" stroke-width="0.85" />
<line x1="158.5" y1="438.6" x2="158.5" y2="442.81" stroke="#ff5252" stroke-width="0.85" />
<line x1="163.5" y1="438.6" x2="163.5" y2="442.38" stroke="#ffcdd2" stroke-width="0.85" />
<line x1="168.5" y1="438.6" x2="168.5" y2="441.65" stroke="#ffcdd2" stroke-width="0.85" />
<line x1="172.5" y1="438.6" x2="172.5" y2="441" stroke="#ffcdd2" stroke-width="0.85" />
<line x1="177.5" y1="438.6" x2="177.5" y2="440.59" stroke="#ffcdd2" stroke-width="0.85" />
<line x1="182.5" y1="438.6" x2="182.5" y2="440.18" stroke="#ffcdd2" stroke-width="0.85" />
<line x1="187.5" y1="438.6" x2="187.5" y2="439.49" stroke="#ffcdd2" stroke-width="0.85" />
<line x1="192.5" y1="438.6" x2="192.5" y2="438.9" stroke="#ffcdd2" stroke-width="0.85" />
<line x1="197.5" y1="438.6" x2="197.5" y2="437.91" stroke="#26a69a" stroke-width="0.85" />
<line x1="202.5" y1="438.6" x2="202.5" y2="437.41" stroke="#26a69a" stroke-width="0.85" />
<line x1="207.5" y1="438.6" x2="207.5" y2="437.19" stroke="#26a69a" stroke-width="0.85" />
<line x1="212.5" y1="438.6" x2="212.5" y2="437.42" stroke="#b2dfdb" stroke-width="0.85" />
<line x1="217.5" y1="438.6" x2="217.5" y2="438.32" stroke="#b2dfdb" stroke-width="0.85" />
<line x1="221.5" y1="438.6" x2="221.5" y2="440.81" stroke="#ff5252" stroke-width="0.85" />
<line x1="226.5" y1="438.6" x2="226.5" y2="442.29" stroke="#ff5252" stroke-width="0.85" />
<line x1="231.5" y1="438.6" x2="231.5" y2="443.47" stroke="#ff5252" stroke-width="0.85" />
<line x1="236.5" y1="438.6" x2="236.5" y2="444.57" stroke="#ff5252" stroke-width="0.85" />
<line x1="241.5" y1="438.6" x2="241.5" y2="443.99" stroke="#ffcdd2" stroke-width="0.85" />
<line x1="246.5" y1="438.6" x2="246.5" y2="443.33" stroke="#ffcdd2" stroke-width="0.85" />
<line x1="251.5" y1="438.6" x2="251.5" y2="441.36" stroke="#ffcdd2" stroke-width="0.85" />
<line x1="256.5" y1="438.6" x2="256.5" y2="438.05" stroke="#26a69a" stroke-width="0.85" />
<line x1="261.5" y1="438.6" x2="261.5" y2="436.68" stroke="#26a69a" stroke-width="0.85" />
<line x1="266.5" y1="438.6" x2="266.5" y2="435.73" stroke="#26a69a" stroke-width="0.85" />
<line x1="271.5" y1="438.6" x2="271.5" y2="434.85" stroke="#26a69a" stroke-width="0.85" />
<line x1="275.5" y1="438.6" x2="275.5" y2="434.12" stroke="#26a69a" stroke-width="0.85" />
<line x1="280.5" y1="438.6" x2="280.5" y2="433.17" stroke="#26a69a" stroke-width="0.85" />
<line x1="285.5" y1="438.6" x2="285.5" y2="432.22" stroke="#26a69a" stroke-width="0.85" />
<line x1="290.5" y1="438.6" x2="290.5" y2="430.37" stroke="#26a69a" stroke-width="0.85" />
<line x1="295.5" y1="438.6" x2="295.5" y2="429.78" stroke="#26a69a" stroke-width="0.85" />
<line x1="300.5" y1="438.6" x2="300.5" y2="429.69" stroke="#26a69a" stroke-width="0.85" />
<line x1="305.5" y1="438.6" x2="305.5" y2="430.45" stroke="#b2dfdb" stroke-width="0.85" />
<line x1="310.5" y1="438.6" x2="310.5" y2="430.94" stroke="#b2dfdb" stroke-width="0.85" />
<line x1="315.5" y1="438.6" x2="315.5" y2="430.54" stroke="#26a69a" stroke-width="0.85" />
<line x1="320.5" y1="438.6" x2="320.5" y2="429.45" stroke="#26a69a" stroke-width="0.85" />
<line x1="324.5" y1="438.6" x2="324.5" y2="429.67" stroke="#b2dfdb" stroke-width="0.85" />
<line x1="329.5" y1="438.6" x2="329.5" y2="430.49" stroke="#b2dfdb" stroke-width="0.85" />
<line x1="334.5" y1="438.6" x2="334.5" y2="431.7" stroke="#b2dfdb" stroke-width="0.85" />
<line x1="339.5" y1="438.6" x2="339.5" y2="433.74" stroke="#b2dfdb" stroke-width="0.85" />
<line x1="344.5" y1="438.6" x2="344.5" y2="435.92" stroke="#b2dfdb" stroke-width="0.85" />
<line x1="349.5" y1="438.6" x2="349.5" y2="438.27" stroke="#b2dfdb" stroke-width="0.85" />
<line x1="354.5" y1="438.6" x2="354.5" y2="439.42" stroke="#ff5252" stroke-width="0.85" />
<line x1="359.5" y1="438.6" x2="359.5" y2="440.33" stroke="#ff5252" stroke-width="0.85" />
<line x1="364.5" y1="438.6" x2="364.5" y2="441.15" stroke="#ff5252" stroke-width="0.85" />
<line x1="369.5" y1="438.6" x2="369.5" y2="441.65" stroke="#ff5252" stroke-width="0.85" />
<line x1="374.5" y1="438.6" x2="374.5" y2="441.38" stroke="#ffcdd2" stroke-width="0.85" />
<line x1="378.5" y1="438.6" x2="378.5" y2="441.23" stroke="#ffcdd2" stroke-width="0.85" />
<line x1="383.5" y1="438.6" x2="383.5" y2="441.37" stroke="#ff5252" stroke-width="0.85" />
<line x1="388.5" y1="438.6" x2="388.5" y2="442.48" stroke="#ff5252" stroke-width="0.85" />
<line x1="393.5" y1="438.6" x2="393.5" y2="443.03" stroke="#ff5252" stroke-width="0.85" />
<line x1="398.5" y1="438.6" x2="398.5" y2="443.3" stroke="#ff5252" stroke-width="0.85" />
<line x1="403.5" y1="438.6" x2="403.5" y2="443.31" stroke="#ff5252" stroke-width="0.85" />
<line x1="408.5" y1="438.6" x2="408.5" y2="443.25" stroke="#ffcdd2" stroke-width="0.85" />
<line x1="413.5" y1="438.6" x2="413.5" y2="443.24" stroke="#ffcdd2" stroke-width="0.85" />
<line x1="418.5" y1="438.6" x2="418.5" y2="443.24" stroke="#ff5252" stroke-width="0.85" />
<line x1="423.5" y1="438.6" x2="423.5" y2="442.46" stroke="#ffcdd2" stroke-width="0.85" />
<line x1="427.5" y1="438.6" x2="427.5" y2="441.53" stroke="#ffcdd2" stroke-width="0.85" />
<line x1="432.5" y1="438.6" x2="432.5" y2="440.6" stroke="#ffcdd2" stroke-width="0.85" />
<line x1="437.5" y1="438.6" x2="437.5" y2="439.77" stroke="#ffcdd2" stroke-width="0.85" />
<line x1="442.5" y1="438.6" x2="442.5" y2="439.22" stroke="#ffcdd2" stroke-width="0.85" />
<line x1="447.5" y1="438.6" x2="447.5" y2="438.9" stroke="#ffcdd2" stroke-width="0.85" />
<line x1="452.5" y1="438.6" x2="452.5" y2="438.95" stroke="#ff5252" stroke-width="0.85" />
<line x1="457.5" y1="438.6" x2="457.5" y2="439.2" stroke="#ff5252" stroke-width="0.85" />
<line x1="462.5" y1="438.6" x2="462.5" y2="439.88" stroke="#ff5252" stroke-width="0.85" />
<line x1="467.5" y1="438.6" x2="467.5" y2="440.01" stroke="#ff5252" stroke-width="0.85" />
<line x1="472.5" y1="438.6" x2="472.5" y2="439.86" stroke="#ffcdd2" stroke-width="0.85" />
<line x1="477.5" y1="438.6" x2="477.5" y2="439.7" stroke="#ffcdd2" stroke-width="0.85" />
<line x1="481.5" y1="438.6" x2="481.5" y2="439.82" stroke="#ff5252" stroke-width="0.85" />
<line x1="486.5" y1="438.6" x2="486.5" y2="439.99" stroke="#ff5252" stroke-width="0.85" />
<line x1="491.5" y1="438.6" x2="491.5" y2="440.34" stroke="#ff5252" stroke-width="0.85" />
<line x1="496.5" y1="438.6" x2="496.5" y2="437.16" stroke="#26a69a" stroke-width="0.85" />
<line x1="501.5" y1="438.6" x2="501.5" y2="434.89" stroke="#26a69a" stroke-width="0.85" />
<line x1="506.5" y1="438.6" x2="506.5" y2="433.24" stroke="#26a69a" stroke-width="0.85" />
<line x1="511.5" y1="438.6" x2="511.5" y2="433.03" stroke="#26a69a" stroke-width="0.85" />
<line x1="516.5" y1="438.6" x2="516.5" y2="433.04" stroke="#b2dfdb" stroke-width="0.85" />
<line x1="521.5" y1="438.6" x2="521.5" y2="433.58" stroke="#b2dfdb" stroke-width="0.85" />
<line x1="526.5" y1="438.6" x2="526.5" y2="434.06" stroke="#b2dfdb" stroke-width="0.85" />
<line x1="530.5" y1="438.6" x2="530.5" y2="434.38" stroke="#b2dfdb" stroke-width="0.85" />
<line x1="535.5" y1="438.6" x2="535.5" y2="434.93" stroke="#b2dfdb" stroke-width="0.85" />
<line x1="540.5" y1="438.6" x2="540.5" y2="435.96" stroke="#b2dfdb" stroke-width="0.85" />
<line x1="545.5" y1="438.6" x2="545.5" y2="437.04" stroke="#b2dfdb" stroke-width="0.85" />
<line x1="550.5" y1="438.6" x2="550.5" y2="438.25" stroke="#b2dfdb" stroke-width="0.85" />
<line x1="555.5" y1="438.6" x2="555.5" y2="439.35" stroke="#ff5252" stroke-width="0.85" />
<line x1="560.5" y1="438.6" x2="560.5" y2="440.27" stroke="#ff5252" stroke-width="0.85" />
<line x1="565.5" y1="438.6" x2="565.5" y2="441.13" stroke="#ff5252" stroke-width="0.85" />
<line x1="570.5" y1="438.6" x2="570.5" y2="441.86" stroke="#ff5252" stroke-width="0.85" />
<line x1="575.5" y1="438.6" x2="575.5" y2="442.35" stroke="#ff5252" stroke-width="0.85" />
<line x1="580.5" y1="438.6" x2="580.5" y2="442.82" stroke="#ff5252" stroke-width="0.85" />
<line x1="584.5" y1="438.6" x2="584.5" y2="443.04" stroke="#ff5252" stroke-width="0.85" />
<line x1="589.5" y1="438.6" x2="589.5" y2="443.22" stroke="#ff5252" stroke-width="0.85" />
<line x1="594.5" y1="438.6" x2="594.5" y2="442.78" stroke="#ffcdd2" stroke-width="0.85" />
<line x1="599.5" y1="438.6" x2="599.5" y2="442.34" stroke="#ffcdd2" stroke-width="0.85" />
<line x1="604.5" y1="438.6" x2="604.5" y2="441.8" stroke="#ffcdd2" stroke-width="0.85" />
<line x1="609.5" y1="438.6" x2="609.5" y2="441.31" stroke="#ffcdd2" stroke-width="0.85" />
<line x1="614.5" y1="438.6" x2="614.5" y2="441.4" stroke="#ff5252" stroke-width="0.85" />
<line x1="619.5" y1="438.6" x2="619.5" y2="439.89" stroke="#ffcdd2" stroke-width="0.85" />
<line x1="624.5" y1="438.6" x2="624.5" y2="438.9" stroke="#ffcdd2" stroke-width="0.85" />
<line x1="629.5" y1="438.6" x2="629.5" y2="438.13" stroke="#26a69a" stroke-width="0.85" />
<line x1="633.5" y1="438.6" x2="633.5" y2="437.72" stroke="#26a69a" stroke-width="0.85" />
<line x1="638.5" y1="438.6" x2="638.5" y2="437.7" stroke="#26a69a" stroke-width="0.85" />
<line x1="643.5" y1="438.6" x2="643.5" y2="438.06" stroke="#b2dfdb" stroke-width="0.85" />
<line x1="648.5" y1="438.6" x2="648.5" y2="438.3" stroke="#b2dfdb" stroke-width="0.85" />
<line x1="653.5" y1="438.6" x2="653.5" y2="438.28" stroke="#26a69a" stroke-width="0.85" />
<line x1="658.5" y1="438.6" x2="658.5" y2="438.19" stroke="#26a69a" stroke-width="0.85" />
<line x1="663.5" y1="438.6" x2="663.5" y2="438.17" stroke="#26a69a" stroke-width="0.85" />
<line x1="668.5" y1="438.6" x2="668.5" y2="438.17" stroke="#26a69a" stroke-width="0.85" />
<line x1="673.5" y1="438.6" x2="673.5" y2="438.29" stroke="#b2dfdb" stroke-width="0.85" />
<line x1="678.5" y1="438.6" x2="678.5" y2="438.9" stroke="#ff5252" stroke-width="0.85" />
<line x1="683.5" y1="438.6" x2="683.5" y2="439.03" stroke="#ff5252" stroke-width="0.85" />
<path d="M5.9 425.2 C9.13 425.7 9.1 425.53 15.6 426.7 C22.1 427.87 18.87 426.87 25.4 428.7 C31.93 430.53 28.7 430.07 35.2 432.2 C41.7 434.33 37.77 433.03 44.9 435.1 C52.03 437.17 48.77 436.3 56.6 438.4 C64.43 440.5 59.93 439.9 68.4 441.4 C76.87 442.9 73.53 442.4 82 442.9 C90.47 443.4 85.97 443.1 93.8 442.9 C101.63 442.7 97.7 442.8 105.5 442.3 C113.3 441.8 110.7 441.7 117.2 441.4 C123.7 441.1 118.5 440.9 125 441.4 C131.5 441.9 128.9 441.6 136.7 442.9 C144.5 444.2 140.57 443.73 148.4 445.3 C156.23 446.87 152.37 446.1 160.2 447.6 C168.03 449.1 164.1 448.77 171.9 449.8 C179.7 450.83 176.43 450.4 183.6 450.7 C190.77 451 188 450.87 193.4 450.7 C198.8 450.53 194.43 450.57 199.8 450.2 C205.17 449.83 203.97 449.93 209.5 449.6 C215.03 449.27 211.17 448.7 216.4 449.2 C221.63 449.7 219.03 449.67 225.2 451.1 C231.37 452.53 228.4 452 234.9 453.5 C241.4 455 238.83 454.63 244.7 455.6 C250.57 456.57 247.3 456.27 252.5 456.4 C257.7 456.53 254.43 456.63 260.3 456 C266.17 455.37 263.6 455.8 270.1 454.5 C276.6 453.2 273.3 454.2 279.8 452.1 C286.3 450 283.07 450.93 289.6 448.2 C296.13 445.47 292.9 446.83 299.4 443.9 C305.9 440.97 303.23 442.2 309.1 439.4 C314.97 436.6 311.13 438.3 317 435.5 C322.87 432.7 320.87 433.4 326.7 431 C332.53 428.6 329.3 429.73 334.5 428.3 C339.7 426.87 337.07 427.37 342.3 426.7 C347.53 426.03 344.97 426.1 350.2 426.3 C355.43 426.5 352.17 426.5 358 427.3 C363.83 428.1 361.2 427.93 367.7 428.7 C374.2 429.47 371.63 428.83 377.5 429.6 C383.37 430.37 381.2 430.33 385.3 431 C389.4 431.67 385.07 430.73 389.8 431.6 C394.53 432.47 393 432.1 399.5 433.6 C406 435.1 402.8 434.5 409.3 436.1 C415.8 437.7 413.13 437.3 419 438.4 C424.87 439.5 421.03 438.93 426.9 439.4 C432.77 439.87 430.1 439.67 436.6 439.8 C443.1 439.93 439.87 439.73 446.4 439.8 C452.93 439.87 450.33 439.8 456.2 440 C462.07 440.2 456.83 440.07 464 440.4 C471.17 440.73 469.9 440.67 477.7 441 C485.5 441.33 481.57 441.27 487.4 441.4 C493.23 441.53 489.33 442.07 495.2 441.4 C501.07 440.73 498.47 440.9 505 439.4 C511.53 437.9 508.3 438.53 514.8 436.9 C521.3 435.27 518 435.8 524.5 434.5 C531 433.2 527.77 433.83 534.3 433 C540.83 432.17 537.6 432.27 544.1 432 C550.6 431.73 547.3 431.87 553.8 432.2 C560.3 432.53 558.2 432.43 563.6 433 C569 433.57 564.6 432.87 570 433.9 C575.4 434.93 573.3 434.73 579.8 436.1 C586.3 437.47 583 436.77 589.5 438 C596 439.23 592.77 438.67 599.3 439.8 C605.83 440.93 601.93 440.67 609.1 441.4 C616.27 442.13 614.3 441.87 620.8 442 C627.3 442.13 623.4 442 628.6 441.8 C633.8 441.6 629.9 441.67 636.4 441.4 C642.9 441.13 640.3 441.2 648.1 441 C655.9 440.8 651.97 441 659.8 440.8 C667.63 440.6 663.97 440.53 671.6 440.4 C679.23 440.27 679 440.4 682.7 440.4" fill="none" stroke="#ff8a3d" stroke-width="1" stroke-linejoin="round" stroke-linecap="round" />
<path d="M5.9 428.3 C9.13 428.93 9.1 428.9 15.6 430.2 C22.1 431.5 18.87 429.77 25.4 432.2 C31.93 434.63 28.7 434.23 35.2 437.5 C41.7 440.77 37.77 439.6 44.9 442 C52.03 444.4 48.77 443.73 56.6 444.7 C64.43 445.67 59.93 445.03 68.4 444.9 C76.87 444.77 73.53 444.97 82 444.3 C90.47 443.63 85.97 443.87 93.8 442.9 C101.63 441.93 97.7 442.23 105.5 441.4 C113.3 440.57 110.7 440.2 117.2 440.4 C123.7 440.6 118.5 440.17 125 442 C131.5 443.83 128.9 443.5 136.7 445.9 C144.5 448.3 140.57 447.33 148.4 449.2 C156.23 451.07 152.37 450.53 160.2 451.5 C168.03 452.47 164.1 451.9 171.9 452.1 C179.7 452.3 176.43 452.57 183.6 452.1 C190.77 451.63 188 451.67 193.4 450.7 C198.8 449.73 194.43 450.03 199.8 449.2 C205.17 448.37 203.97 448.4 209.5 448.2 C215.03 448 212.47 447.3 216.4 448.6 C220.33 449.9 217.1 449.63 221.3 452.1 C225.5 454.57 223.8 453.53 229 456 C234.2 458.47 231.33 458.07 236.9 459.5 C242.47 460.93 241.17 460.3 245.7 460.3 C250.23 460.3 247.27 460.93 250.5 459.5 C253.73 458.07 250.83 458.13 255.4 456 C259.97 453.87 258 455.17 264.2 453.1 C270.4 451.03 267.47 452.4 274 449.8 C280.53 447.2 277.93 448.77 283.8 445.3 C289.67 441.83 286.4 442.67 291.6 439.4 C296.8 436.13 294.2 437.63 299.4 435.5 C304.6 433.37 302.67 434.63 307.2 433 C311.73 431.37 309.1 432.9 313 430.6 C316.9 428.3 314.33 428.7 318.9 426.1 C323.47 423.5 321.5 424.23 326.7 422.8 C331.9 421.37 329.3 421.67 334.5 421.8 C339.7 421.93 337.07 421.7 342.3 423.2 C347.53 424.7 344.97 424.47 350.2 426.3 C355.43 428.13 352.17 426.93 358 428.7 C363.83 430.47 361.2 430.5 367.7 431.6 C374.2 432.7 371.63 431.33 377.5 432 C383.37 432.67 381.2 432.43 385.3 433.6 C389.4 434.77 385.07 434.03 389.8 435.5 C394.53 436.97 393 436.37 399.5 438 C406 439.63 402.8 438.83 409.3 440.4 C415.8 441.97 413.13 442.07 419 442.7 C424.87 443.33 421.03 442.87 426.9 442.3 C432.77 441.73 430.1 441.77 436.6 441 C443.1 440.23 439.87 440.2 446.4 440 C452.93 439.8 450.33 439.8 456.2 440.4 C462.07 441 456.83 441.27 464 441.8 C471.17 442.33 469.9 441.7 477.7 442 C485.5 442.3 482.87 442.27 487.4 442.7 C491.93 443.13 488.03 444.4 491.3 443.3 C494.57 442.2 492.63 442.33 497.2 439.4 C501.77 436.47 499.13 437.1 505 434.5 C510.87 431.9 508.3 433.03 514.8 431.6 C521.3 430.17 518 430.97 524.5 430.2 C531 429.43 527.77 429.3 534.3 429.3 C540.83 429.3 537.6 429.1 544.1 430.2 C550.6 431.3 547.3 430.97 553.8 432.6 C560.3 434.23 558.2 433.67 563.6 435.1 C569 436.53 564.6 435.27 570 436.9 C575.4 438.53 573.3 438.2 579.8 440 C586.3 441.8 583 441.2 589.5 442.3 C596 443.4 592.77 442.77 599.3 443.3 C605.83 443.83 603.9 443.57 609.1 443.9 C614.3 444.23 611 444.7 614.9 444.3 C618.8 443.9 616.23 443.67 620.8 442.7 C625.37 441.73 623.4 442.17 628.6 441.4 C633.8 440.63 629.9 440.6 636.4 440.4 C642.9 440.2 640.3 440.8 648.1 440.8 C655.9 440.8 651.97 440.67 659.8 440.4 C667.63 440.13 663.97 439.87 671.6 440 C679.23 440.13 679 440.53 682.7 440.8" fill="none" stroke="#42a5f5" stroke-width="1" stroke-linejoin="round" stroke-linecap="round" />
<line x1="984.5" y1="14.8" x2="984.5" y2="478.6" stroke="#707070" stroke-width="1" />
<line x1="5.5" y1="463.4" x2="1018.8" y2="463.4" stroke="#8f8f8f" stroke-width="1.1" />
<text x="979.7" y="62.74" font-size="6.6" fill="#8a8a8a" text-anchor="end" font-weight="normal"  stroke="#8a8a8a" stroke-width="0.16">0 (1.43299)</text>
<text x="979.7" y="122.66" font-size="6.6" fill="#e06666" text-anchor="end" font-weight="normal"  stroke="#e06666" stroke-width="0.16">0.236 (1.39458)</text>
<text x="979.7" y="159.72" font-size="6.6" fill="#ff3b3b" text-anchor="end" font-weight="normal"  stroke="#ff3b3b" stroke-width="0.16">0.382 (1.37082)</text>
<text x="979.7" y="189.67" font-size="6.6" fill="#5e3b52" text-anchor="end" font-weight="normal"  stroke="#5e3b52" stroke-width="0.16">0.5 (1.35162)</text>
<text x="979.7" y="219.64" font-size="6.6" fill="#4fd1a5" text-anchor="end" font-weight="normal"  stroke="#4fd1a5" stroke-width="0.16">0.618 (1.33241)</text>
<text x="979.7" y="256.71" font-size="6.6" fill="#c9283e" text-anchor="end" font-weight="normal"  stroke="#c9283e" stroke-width="0.16">0.764 (1.30865)</text>
<text x="979.7" y="273.98" font-size="6.6" fill="#e05252" text-anchor="end" font-weight="normal"  stroke="#e05252" stroke-width="0.16">0.832 (1.29758)</text>
<text x="979.7" y="316.63" font-size="6.6" fill="#5eaee0" text-anchor="end" font-weight="normal"  stroke="#5eaee0" stroke-width="0.16">1 (1.27024)</text>
<text x="989.6" y="59.1" font-size="6.3" fill="#4a4a4a" text-anchor="start" font-weight="normal" textLength="21.4" lengthAdjust="spacingAndGlyphs"  stroke="#4a4a4a" stroke-width="0.16">1.44000</text>
<text x="989.6" y="90.3" font-size="6.3" fill="#4a4a4a" text-anchor="start" font-weight="normal" textLength="21.4" lengthAdjust="spacingAndGlyphs"  stroke="#4a4a4a" stroke-width="0.16">1.42000</text>
<text x="989.6" y="121.5" font-size="6.3" fill="#4a4a4a" text-anchor="start" font-weight="normal" textLength="21.4" lengthAdjust="spacingAndGlyphs"  stroke="#4a4a4a" stroke-width="0.16">1.40000</text>
<text x="989.6" y="152.7" font-size="6.3" fill="#4a4a4a" text-anchor="start" font-weight="normal" textLength="21.4" lengthAdjust="spacingAndGlyphs"  stroke="#4a4a4a" stroke-width="0.16">1.38000</text>
<text x="989.6" y="183.9" font-size="6.3" fill="#4a4a4a" text-anchor="start" font-weight="normal" textLength="21.4" lengthAdjust="spacingAndGlyphs"  stroke="#4a4a4a" stroke-width="0.16">1.36000</text>
<text x="989.6" y="215.1" font-size="6.3" fill="#4a4a4a" text-anchor="start" font-weight="normal" textLength="21.4" lengthAdjust="spacingAndGlyphs"  stroke="#4a4a4a" stroke-width="0.16">1.34000</text>
<text x="989.6" y="246.3" font-size="6.3" fill="#4a4a4a" text-anchor="start" font-weight="normal" textLength="21.4" lengthAdjust="spacingAndGlyphs"  stroke="#4a4a4a" stroke-width="0.16">1.32000</text>
<text x="989.6" y="277.5" font-size="6.3" fill="#4a4a4a" text-anchor="start" font-weight="normal" textLength="21.4" lengthAdjust="spacingAndGlyphs"  stroke="#4a4a4a" stroke-width="0.16">1.30000</text>
<text x="989.6" y="308.7" font-size="6.3" fill="#4a4a4a" text-anchor="start" font-weight="normal" textLength="21.4" lengthAdjust="spacingAndGlyphs"  stroke="#4a4a4a" stroke-width="0.16">1.28000</text>
<clipPath id="c126"><rect x="985" y="330" width="40" height="8.2"/></clipPath>
<text x="989.6" y="339.9" font-size="6.3" fill="#4a4a4a" text-anchor="start" font-weight="normal" textLength="21.4" lengthAdjust="spacingAndGlyphs" clip-path="url(#c126)" stroke="#4a4a4a" stroke-width="0.16">1.26000</text>
<text x="989.6" y="361.9" font-size="6.3" fill="#4a4a4a" text-anchor="start" font-weight="normal" textLength="15.2" lengthAdjust="spacingAndGlyphs"  stroke="#4a4a4a" stroke-width="0.16">60.00</text>
<text x="989.6" y="388.8" font-size="6.3" fill="#4a4a4a" text-anchor="start" font-weight="normal" textLength="15.2" lengthAdjust="spacingAndGlyphs"  stroke="#4a4a4a" stroke-width="0.16">40.00</text>
<text x="989.6" y="415.1" font-size="6.3" fill="#4a4a4a" text-anchor="start" font-weight="normal" textLength="15.2" lengthAdjust="spacingAndGlyphs"  stroke="#4a4a4a" stroke-width="0.16">20.00</text>
<clipPath id="c002"><rect x="985" y="420.1" width="40" height="8"/></clipPath>
<text x="989.6" y="423.4" font-size="6.3" fill="#4a4a4a" text-anchor="start" font-weight="normal" textLength="21.4" lengthAdjust="spacingAndGlyphs" clip-path="url(#c002)" stroke="#4a4a4a" stroke-width="0.16">0.02000</text>
<text x="989.6" y="440.8" font-size="6.3" fill="#4a4a4a" text-anchor="start" font-weight="normal" textLength="21.4" lengthAdjust="spacingAndGlyphs"  stroke="#4a4a4a" stroke-width="0.16">0.00000</text>
<text x="989.6" y="458" font-size="6.3" fill="#4a4a4a" text-anchor="start" font-weight="normal" textLength="24.8" lengthAdjust="spacingAndGlyphs"  stroke="#4a4a4a" stroke-width="0.16">−0.02000</text>
<rect x="984.5" y="63.8" width="28.5" height="9" fill="#ff1a1a"/>
<text x="989.6" y="70.6" font-size="6.3" fill="#fff" text-anchor="start" font-weight="bold" textLength="21.6" lengthAdjust="spacingAndGlyphs" >1.43263</text>
<rect x="984.5" y="160.4" width="28.5" height="9" fill="#ff1a1a"/>
<text x="989.6" y="167.2" font-size="6.3" fill="#fff" text-anchor="start" font-weight="bold" textLength="21.6" lengthAdjust="spacingAndGlyphs" >1.37078</text>
<rect x="984.5" y="220.7" width="28.5" height="9" fill="#4caf50"/>
<text x="989.6" y="227.5" font-size="6.3" fill="#fff" text-anchor="start" font-weight="bold" textLength="21.6" lengthAdjust="spacingAndGlyphs" >1.33212</text>
<rect x="984.5" y="257.6" width="28.5" height="9" fill="#4caf50"/>
<text x="989.6" y="264.4" font-size="6.3" fill="#fff" text-anchor="start" font-weight="bold" textLength="21.6" lengthAdjust="spacingAndGlyphs" >1.30849</text>
<rect x="984.5" y="319.7" width="28.5" height="9" fill="#4caf50"/>
<text x="989.6" y="326.5" font-size="6.3" fill="#fff" text-anchor="start" font-weight="bold" textLength="21.6" lengthAdjust="spacingAndGlyphs" >1.26897</text>
<rect x="984.5" y="196.6" width="28.5" height="16.2" fill="#ff0a0a"/>
<text x="989.6" y="203.8" font-size="6.3" fill="#fff" text-anchor="start" font-weight="bold" textLength="21.6" lengthAdjust="spacingAndGlyphs" >1.34747</text>
<text x="989.6" y="211" font-size="5.9" fill="#ffd0d0" text-anchor="start" font-weight="normal" textLength="14.5" lengthAdjust="spacingAndGlyphs"  stroke="#ffd0d0" stroke-width="0.16">30:36</text>
<rect x="986.7" y="17.4" width="30.3" height="14.1" rx="1.5" fill="#fff" stroke="#e6e8ee" stroke-width="0.8"/>
<text x="991.8" y="27.3" font-size="6.6" fill="#333" text-anchor="start" font-weight="normal" textLength="11.6" lengthAdjust="spacingAndGlyphs"  stroke="#333" stroke-width="0.16">USD</text>
<text x="15.3" y="472.7" font-size="6.3" fill="#555" text-anchor="middle" font-weight="normal" textLength="15.1" lengthAdjust="spacingAndGlyphs"  stroke="#555" stroke-width="0.16">12:00</text>
<text x="44.74" y="472.7" font-size="6.3" fill="#555" text-anchor="middle" font-weight="normal" textLength="15.1" lengthAdjust="spacingAndGlyphs"  stroke="#555" stroke-width="0.16">18:00</text>
<text x="74.18" y="472.7" font-size="6.3" fill="#555" text-anchor="middle" font-weight="normal"  stroke="#555" stroke-width="0.16">27</text>
<text x="103.62" y="472.7" font-size="6.3" fill="#555" text-anchor="middle" font-weight="normal" textLength="15.1" lengthAdjust="spacingAndGlyphs"  stroke="#555" stroke-width="0.16">06:00</text>
<text x="133.06" y="472.7" font-size="6.3" fill="#555" text-anchor="middle" font-weight="normal" textLength="15.1" lengthAdjust="spacingAndGlyphs"  stroke="#555" stroke-width="0.16">12:00</text>
<text x="162.5" y="472.7" font-size="6.3" fill="#555" text-anchor="middle" font-weight="normal" textLength="15.1" lengthAdjust="spacingAndGlyphs"  stroke="#555" stroke-width="0.16">18:00</text>
<text x="191.94" y="472.7" font-size="6.3" fill="#555" text-anchor="middle" font-weight="normal"  stroke="#555" stroke-width="0.16">28</text>
<text x="221.38" y="472.7" font-size="6.3" fill="#555" text-anchor="middle" font-weight="normal" textLength="15.1" lengthAdjust="spacingAndGlyphs"  stroke="#555" stroke-width="0.16">06:00</text>
<text x="250.82" y="472.7" font-size="6.3" fill="#555" text-anchor="middle" font-weight="normal" textLength="15.1" lengthAdjust="spacingAndGlyphs"  stroke="#555" stroke-width="0.16">12:00</text>
<text x="280.26" y="472.7" font-size="6.3" fill="#555" text-anchor="middle" font-weight="normal" textLength="15.1" lengthAdjust="spacingAndGlyphs"  stroke="#555" stroke-width="0.16">18:00</text>
<text x="309.7" y="472.7" font-size="6.3" fill="#555" text-anchor="middle" font-weight="normal"  stroke="#555" stroke-width="0.16">Mar</text>
<text x="339.14" y="472.7" font-size="6.3" fill="#555" text-anchor="middle" font-weight="normal" textLength="15.1" lengthAdjust="spacingAndGlyphs"  stroke="#555" stroke-width="0.16">06:00</text>
<text x="368.58" y="472.7" font-size="6.3" fill="#555" text-anchor="middle" font-weight="normal" textLength="15.1" lengthAdjust="spacingAndGlyphs"  stroke="#555" stroke-width="0.16">12:00</text>
<text x="398.02" y="472.7" font-size="6.3" fill="#555" text-anchor="middle" font-weight="normal" textLength="15.1" lengthAdjust="spacingAndGlyphs"  stroke="#555" stroke-width="0.16">18:00</text>
<text x="427.46" y="472.7" font-size="6.3" fill="#555" text-anchor="middle" font-weight="normal"  stroke="#555" stroke-width="0.16">2</text>
<text x="456.9" y="472.7" font-size="6.3" fill="#555" text-anchor="middle" font-weight="normal" textLength="15.1" lengthAdjust="spacingAndGlyphs"  stroke="#555" stroke-width="0.16">06:00</text>
<text x="486.34" y="472.7" font-size="6.3" fill="#555" text-anchor="middle" font-weight="normal" textLength="15.1" lengthAdjust="spacingAndGlyphs"  stroke="#555" stroke-width="0.16">12:00</text>
<text x="515.78" y="472.7" font-size="6.3" fill="#555" text-anchor="middle" font-weight="normal" textLength="15.1" lengthAdjust="spacingAndGlyphs"  stroke="#555" stroke-width="0.16">18:00</text>
<text x="545.22" y="472.7" font-size="6.3" fill="#555" text-anchor="middle" font-weight="normal"  stroke="#555" stroke-width="0.16">3</text>
<text x="574.66" y="472.7" font-size="6.3" fill="#555" text-anchor="middle" font-weight="normal" textLength="15.1" lengthAdjust="spacingAndGlyphs"  stroke="#555" stroke-width="0.16">06:00</text>
<text x="604.1" y="472.7" font-size="6.3" fill="#555" text-anchor="middle" font-weight="normal" textLength="15.1" lengthAdjust="spacingAndGlyphs"  stroke="#555" stroke-width="0.16">12:00</text>
<text x="633.54" y="472.7" font-size="6.3" fill="#555" text-anchor="middle" font-weight="normal" textLength="15.1" lengthAdjust="spacingAndGlyphs"  stroke="#555" stroke-width="0.16">18:00</text>
<text x="662.98" y="472.7" font-size="6.3" fill="#555" text-anchor="middle" font-weight="normal"  stroke="#555" stroke-width="0.16">4</text>
<text x="692.42" y="472.7" font-size="6.3" fill="#555" text-anchor="middle" font-weight="normal" textLength="15.1" lengthAdjust="spacingAndGlyphs"  stroke="#555" stroke-width="0.16">06:00</text>
<text x="721.86" y="472.7" font-size="6.3" fill="#555" text-anchor="middle" font-weight="normal" textLength="15.1" lengthAdjust="spacingAndGlyphs"  stroke="#555" stroke-width="0.16">12:00</text>
<text x="751.3" y="472.7" font-size="6.3" fill="#555" text-anchor="middle" font-weight="normal" textLength="15.1" lengthAdjust="spacingAndGlyphs"  stroke="#555" stroke-width="0.16">18:00</text>
<text x="780.74" y="472.7" font-size="6.3" fill="#555" text-anchor="middle" font-weight="normal"  stroke="#555" stroke-width="0.16">5</text>
<text x="810.18" y="472.7" font-size="6.3" fill="#555" text-anchor="middle" font-weight="normal" textLength="15.1" lengthAdjust="spacingAndGlyphs"  stroke="#555" stroke-width="0.16">06:00</text>
<text x="839.62" y="472.7" font-size="6.3" fill="#555" text-anchor="middle" font-weight="normal" textLength="15.1" lengthAdjust="spacingAndGlyphs"  stroke="#555" stroke-width="0.16">12:00</text>
<text x="869.06" y="472.7" font-size="6.3" fill="#555" text-anchor="middle" font-weight="normal" textLength="15.1" lengthAdjust="spacingAndGlyphs"  stroke="#555" stroke-width="0.16">18:00</text>
<text x="898.5" y="472.7" font-size="6.3" fill="#555" text-anchor="middle" font-weight="normal"  stroke="#555" stroke-width="0.16">6</text>
<text x="927.94" y="472.7" font-size="6.3" fill="#555" text-anchor="middle" font-weight="normal" textLength="15.1" lengthAdjust="spacingAndGlyphs"  stroke="#555" stroke-width="0.16">06:00</text>
<text x="957.38" y="472.7" font-size="6.3" fill="#555" text-anchor="middle" font-weight="normal" textLength="15.1" lengthAdjust="spacingAndGlyphs"  stroke="#555" stroke-width="0.16">12:00</text>
<text x="5.8" y="10.6" font-size="7.2" fill="#222" text-anchor="start" font-weight="normal" textLength="37.8" lengthAdjust="spacingAndGlyphs"  stroke="#222" stroke-width="0.16">aayushjindal</text>
<text x="45.8" y="10.6" font-size="7.2" fill="#222" text-anchor="start" font-weight="normal" textLength="22.3" lengthAdjust="spacingAndGlyphs"  stroke="#222" stroke-width="0.16">created</text>
<text x="70.9" y="10.6" font-size="7.2" fill="#222" text-anchor="start" font-weight="normal" textLength="11.8" lengthAdjust="spacingAndGlyphs"  stroke="#222" stroke-width="0.16">with</text>
<text x="85.9" y="10.6" font-size="7.2" fill="#222" text-anchor="start" font-weight="normal" textLength="51.6" lengthAdjust="spacingAndGlyphs"  stroke="#222" stroke-width="0.16">TradingView.com,</text>
<text x="140.7" y="10.6" font-size="7.2" fill="#222" text-anchor="start" font-weight="normal" textLength="10.1" lengthAdjust="spacingAndGlyphs"  stroke="#222" stroke-width="0.16">Mar</text>
<text x="153.6" y="10.6" font-size="7.2" fill="#222" text-anchor="start" font-weight="normal" textLength="7.9" lengthAdjust="spacingAndGlyphs"  stroke="#222" stroke-width="0.16">04,</text>
<text x="164.3" y="10.6" font-size="7.2" fill="#222" text-anchor="start" font-weight="normal" textLength="14.4" lengthAdjust="spacingAndGlyphs"  stroke="#222" stroke-width="0.16">2026</text>
<text x="181.1" y="10.6" font-size="7.2" fill="#222" text-anchor="start" font-weight="normal" textLength="16.1" lengthAdjust="spacingAndGlyphs"  stroke="#222" stroke-width="0.16">04:29</text>
<text x="200.2" y="10.6" font-size="7.2" fill="#222" text-anchor="start" font-weight="normal" textLength="11.4" lengthAdjust="spacingAndGlyphs"  stroke="#222" stroke-width="0.16">UTC</text>
<rect x="8.5" y="19.6" width="280" height="9.2" fill="#fff" fill-opacity="0.65"/>
<rect x="8.5" y="29" width="59" height="9.2" fill="#fff" fill-opacity="0.65"/>
<text x="10" y="26" font-size="6.6" fill="#4a4a4a" text-anchor="start" font-weight="normal" textLength="92" lengthAdjust="spacingAndGlyphs"  stroke="#4a4a4a" stroke-width="0.16">XRP / U.S. Dollar · 1h · Kraken</text>
<text x="105.9" y="26" font-size="6.6" fill="#4a4a4a" text-anchor="start" font-weight="normal"  stroke="#4a4a4a" stroke-width="0.16">O</text>
<text x="110.6" y="26" font-size="6.6" fill="#7d2a2a" text-anchor="start" font-weight="normal" textLength="23.6" lengthAdjust="spacingAndGlyphs"  stroke="#7d2a2a" stroke-width="0.16">1.35300</text>
<text x="138" y="26" font-size="6.6" fill="#4a4a4a" text-anchor="start" font-weight="normal"  stroke="#4a4a4a" stroke-width="0.16">H</text>
<text x="142.6" y="26" font-size="6.6" fill="#7d2a2a" text-anchor="start" font-weight="normal" textLength="23.4" lengthAdjust="spacingAndGlyphs"  stroke="#7d2a2a" stroke-width="0.16">1.35582</text>
<text x="170.3" y="26" font-size="6.6" fill="#4a4a4a" text-anchor="start" font-weight="normal"  stroke="#4a4a4a" stroke-width="0.16">L</text>
<text x="173.8" y="26" font-size="6.6" fill="#7d2a2a" text-anchor="start" font-weight="normal" textLength="23.2" lengthAdjust="spacingAndGlyphs"  stroke="#7d2a2a" stroke-width="0.16">1.34657</text>
<text x="201.2" y="26" font-size="6.6" fill="#4a4a4a" text-anchor="start" font-weight="normal"  stroke="#4a4a4a" stroke-width="0.16">C</text>
<text x="205.4" y="26" font-size="6.6" fill="#7d2a2a" text-anchor="start" font-weight="normal" textLength="23.1" lengthAdjust="spacingAndGlyphs"  stroke="#7d2a2a" stroke-width="0.16">1.34747</text>
<text x="233.2" y="26" font-size="6.6" fill="#7d2a2a" text-anchor="start" font-weight="normal" textLength="53.9" lengthAdjust="spacingAndGlyphs"  stroke="#7d2a2a" stroke-width="0.16">−0.00583 (−0.43%)</text>
<text x="10" y="35.3" font-size="6.6" fill="#4a4a4a" text-anchor="start" font-weight="normal" textLength="48.6" lengthAdjust="spacingAndGlyphs"  stroke="#4a4a4a" stroke-width="0.16">SMA (100, close)</text>
<text x="63.5" y="35.3" font-size="6.6" fill="#ff5a5a" text-anchor="start" font-weight="normal"  stroke="#ff5a5a" stroke-width="0.16">1</text>
<text x="9.8" y="349.6" font-size="6.6" fill="#4a4a4a" text-anchor="start" font-weight="normal" textLength="42.4" lengthAdjust="spacingAndGlyphs"  stroke="#4a4a4a" stroke-width="0.16">RSI (14, close)</text>
<text x="56.6" y="349.6" font-size="6.6" fill="#a63dbb" text-anchor="start" font-weight="normal" textLength="16.4" lengthAdjust="spacingAndGlyphs"  stroke="#a63dbb" stroke-width="0.16">39.08</text>
<text x="77.5" y="349.6" font-size="6.6" fill="#f4d44d" text-anchor="start" font-weight="normal" textLength="16.4" lengthAdjust="spacingAndGlyphs"  stroke="#f4d44d" stroke-width="0.16">47.47</text>
<text x="99.8" y="349.6" font-size="6.4" fill="#444" text-anchor="middle" font-weight="normal" textLength="3.2" lengthAdjust="spacingAndGlyphs"  stroke="#444" stroke-width="0.16">0</text>
<line x1="98.1" y1="349.9" x2="101.5" y2="344.7" stroke="#444" stroke-width="0.55" />
<text x="108.7" y="349.6" font-size="6.4" fill="#444" text-anchor="middle" font-weight="normal" textLength="3.2" lengthAdjust="spacingAndGlyphs"  stroke="#444" stroke-width="0.16">0</text>
<line x1="107" y1="349.9" x2="110.4" y2="344.7" stroke="#444" stroke-width="0.55" />
<text x="117.2" y="349.6" font-size="6.4" fill="#444" text-anchor="middle" font-weight="normal" textLength="3.2" lengthAdjust="spacingAndGlyphs"  stroke="#444" stroke-width="0.16">0</text>
<line x1="115.5" y1="349.9" x2="118.9" y2="344.7" stroke="#444" stroke-width="0.55" />
<text x="125.8" y="349.6" font-size="6.4" fill="#444" text-anchor="middle" font-weight="normal" textLength="3.2" lengthAdjust="spacingAndGlyphs"  stroke="#444" stroke-width="0.16">0</text>
<line x1="124.1" y1="349.9" x2="127.5" y2="344.7" stroke="#444" stroke-width="0.55" />
<text x="9.8" y="430.6" font-size="6.6" fill="#4a4a4a" text-anchor="start" font-weight="normal" textLength="62.2" lengthAdjust="spacingAndGlyphs"  stroke="#4a4a4a" stroke-width="0.16">MACD (12, 26, close)</text>
<text x="76.6" y="430.6" font-size="6.6" fill="#ff5252" text-anchor="start" font-weight="normal" textLength="26.4" lengthAdjust="spacingAndGlyphs"  stroke="#ff5252" stroke-width="0.16">−0.00045</text>
<text x="108" y="430.6" font-size="6.6" fill="#2196f3" text-anchor="start" font-weight="normal" textLength="26.4" lengthAdjust="spacingAndGlyphs"  stroke="#2196f3" stroke-width="0.16">−0.00336</text>
<text x="139" y="430.6" font-size="6.6" fill="#ff6d00" text-anchor="start" font-weight="normal" textLength="26.2" lengthAdjust="spacingAndGlyphs"  stroke="#ff6d00" stroke-width="0.16">−0.00291</text>
<g>
<path d="M677.89 329.68 A5.5 5.5 0 0 1 685.26 326" fill="none" stroke="#a03ec0" stroke-width="0.95" stroke-linecap="round"/>
<path d="M688.58 329.96 A5.5 5.5 0 0 1 679.31 334.99" fill="none" stroke="#a03ec0" stroke-width="0.95" stroke-linecap="round"/>
<path d="M684.5 328.2 L681.2 331.7 L683 331.7 L681.5 334.5 L685.2 330.7 L683.4 330.7 Z" fill="#a03ec0" stroke="#a03ec0" stroke-width="0.35" stroke-linejoin="round"/>
<circle cx="686.9" cy="327.5" r="1.7" fill="#f23645"/>
<path d="M677.3 330.7 Q677.7 333.1 680.1 333.5 Q677.7 333.9 677.3 336.3 Q676.9 333.9 674.5 333.5 Q676.9 333.1 677.3 330.7 Z" fill="#6a5bff"/>
</g>
<g fill="#101014">
<path d="M6.8 491.1 H13.2 V498.9 H10 V494 H6.8 Z"/>
<circle cx="16.1" cy="492.5" r="1.45"/>
<path d="M19.3 491.1 H23 L20 498.9 H16.4 Z"/>
</g>
<text x="27.2" y="498.9" font-size="11.2" fill="#101014" text-anchor="start" font-weight="bold" textLength="67.9" lengthAdjust="spacingAndGlyphs" >TradingView</text>
</svg>
</body></html>
